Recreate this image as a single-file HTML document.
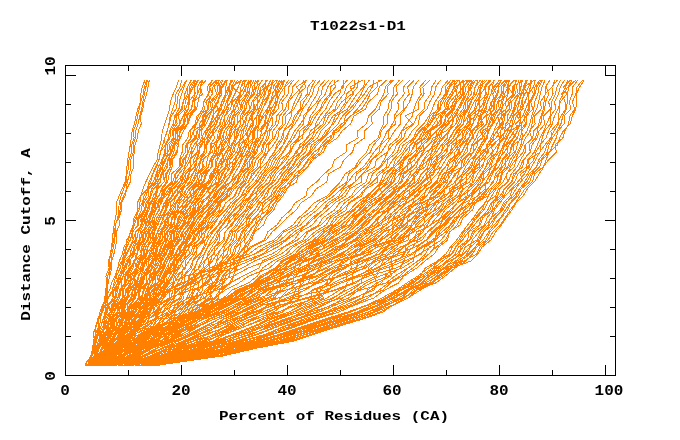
<!DOCTYPE html>
<html><head><meta charset="utf-8"><style>
html,body{margin:0;padding:0;background:#fff;width:680px;height:440px;overflow:hidden}
svg{display:block}
text{font-family:"Liberation Mono",monospace;font-weight:bold;fill:#000}
</style></head><body>
<svg width="680" height="440" viewBox="0 0 680 440">
<rect width="680" height="440" fill="#fff"/>
<g fill="none" stroke="#ff7f00" stroke-width="1" shape-rendering="crispEdges">
<polyline points="145.0,80 142.3,87 140.9,94 140.4,102 137.8,109 136.0,116 134.3,124 132.2,131 131.3,138 130.3,145 129.0,152 127.6,160 126.9,167 126.3,174 125.2,182 121.9,189 119.1,196 116.4,203 117.0,210 115.4,218 114.1,225 113.1,232 112.6,240 111.2,247 110.7,254 108.3,261 109.2,268 105.9,276 107.1,283 105.6,290 104.8,298 103.7,305 102.1,312 97.8,319 95.8,326 95.8,334 93.5,341 92.6,348 91.2,356 85.8,363 84.9,366"/>
<polyline points="146.8,80 144.2,87 143.5,94 140.5,102 139.2,109 137.5,116 136.0,124 133.4,131 134.1,138 131.7,145 131.7,152 129.0,160 128.9,167 126.9,174 126.4,182 123.7,189 121.1,196 119.2,203 118.7,210 117.7,218 115.2,225 114.7,232 113.8,240 112.0,247 110.7,254 109.5,261 110.1,268 107.7,276 107.6,283 105.5,290 105.8,298 102.5,305 99.9,312 98.4,319 96.3,326 93.0,334 94.6,341 93.9,348 91.3,356 86.5,363 86.4,366"/>
<polyline points="147.6,80 145.9,87 144.4,94 142.8,102 141.7,109 139.8,116 138.0,124 135.7,131 135.4,138 133.2,145 133.4,152 130.8,160 130.6,167 129.6,174 127.3,182 126.5,189 123.7,196 120.6,203 120.0,210 118.3,218 115.3,225 115.9,232 114.6,240 113.5,247 111.7,254 111.1,261 110.1,268 109.8,276 108.1,283 106.5,290 106.2,298 102.9,305 101.4,312 98.3,319 99.1,326 97.0,334 95.7,341 94.1,348 91.4,356 88.3,363 87.0,366"/>
<polyline points="149.3,80 148.0,87 146.6,94 144.0,102 142.9,109 140.6,116 141.2,124 138.3,131 137.3,138 134.9,145 134.3,152 133.3,160 133.7,167 131.0,174 130.2,182 126.8,189 125.1,196 121.3,203 121.5,210 118.9,218 119.4,225 116.4,232 116.8,240 115.5,247 113.9,254 111.8,261 111.8,268 109.6,276 108.2,283 107.2,290 107.5,298 103.3,305 102.3,312 99.0,319 98.9,326 95.5,334 95.0,341 94.8,348 91.4,356 89.1,363 89.2,366"/>
<polyline points="178.8,80 176.4,87 173.2,94 170.4,102 169.6,109 167.3,116 164.7,124 162.2,131 161.7,138 160.0,145 158.2,152 157.0,160 152.9,167 149.6,174 145.8,182 142.9,189 140.8,196 137.2,203 138.0,210 133.9,218 133.8,225 130.3,232 128.7,240 123.8,247 122.5,254 119.3,261 117.8,268 114.9,276 111.5,283 109.7,290 105.4,298 105.2,305 102.4,312 100.2,319 99.9,326 98.1,334 95.2,341 92.5,348 91.3,356 86.5,363 87.4,366"/>
<polyline points="181.8,80 180.2,87 175.9,94 175.0,102 172.6,109 170.2,116 168.8,124 167.3,131 164.7,138 162.8,145 160.4,152 159.2,160 155.4,167 152.7,174 149.1,182 147.0,189 141.0,196 139.8,203 139.0,210 135.4,218 133.1,225 131.0,232 126.8,240 125.9,247 125.8,254 121.9,261 117.8,268 115.6,276 114.1,283 112.4,290 108.0,298 105.3,305 105.1,312 103.0,319 101.0,326 98.6,334 95.9,341 94.6,348 90.5,356 90.3,363 88.4,366"/>
<polyline points="186.4,80 182.5,87 178.2,94 177.4,102 176.0,109 171.2,116 169.2,124 167.0,131 164.6,138 165.2,145 160.5,152 158.7,160 156.7,167 152.9,174 150.8,182 147.0,189 144.0,196 142.2,203 137.5,210 136.6,218 134.3,225 132.2,232 130.6,240 125.7,247 123.7,254 122.2,261 120.2,268 116.5,276 117.6,283 114.4,290 108.1,298 106.9,305 107.6,312 103.3,319 100.9,326 98.1,334 96.6,341 94.5,348 92.1,356 89.8,363 88.2,366"/>
<polyline points="186.7,80 184.0,87 181.7,94 179.2,102 179.0,109 174.7,116 173.3,124 169.5,131 168.4,138 165.6,145 164.5,152 162.1,160 158.2,167 156.2,174 153.1,182 148.0,189 146.0,196 142.3,203 141.6,210 137.4,218 137.8,225 132.6,232 129.9,240 127.1,247 124.0,254 122.6,261 122.6,268 119.0,276 115.4,283 112.1,290 113.2,298 107.9,305 106.2,312 104.4,319 105.1,326 100.3,334 98.6,341 95.7,348 94.3,356 88.7,363 88.0,366"/>
<polyline points="191.8,80 187.3,87 187.8,94 183.0,102 182.4,109 175.6,116 177.2,124 172.1,131 173.4,138 167.3,145 167.7,152 161.7,160 160.8,167 156.2,174 155.7,182 148.6,189 148.6,196 143.6,203 144.3,210 138.1,218 138.8,225 132.1,232 133.1,240 129.8,247 126.1,254 122.6,261 124.9,268 118.2,276 118.0,283 113.2,290 113.2,298 107.6,305 105.9,312 103.0,319 103.1,326 98.6,334 100.1,341 95.6,348 95.8,356 88.3,363 91.7,366"/>
<polyline points="191.1,80 187.6,87 184.8,94 183.5,102 181.2,109 177.1,116 175.1,124 170.5,131 169.9,138 165.7,145 165.6,152 162.8,160 162.9,167 158.9,174 156.2,182 151.6,189 150.0,196 147.3,203 145.3,210 141.2,218 142.0,225 135.7,232 133.1,240 130.5,247 127.1,254 123.7,261 124.1,268 120.8,276 117.4,283 115.8,290 114.8,298 109.1,305 107.3,312 104.4,319 104.2,326 101.3,334 100.8,341 97.4,348 95.6,356 91.5,363 90.8,366"/>
<polyline points="194.3,80 189.2,87 189.2,94 185.2,102 184.7,109 178.1,116 180.3,124 173.5,131 174.0,138 169.6,145 170.7,152 164.5,160 162.0,167 157.6,174 158.2,182 151.2,189 150.6,196 145.8,203 144.8,210 139.7,218 142.1,225 135.4,232 135.3,240 129.4,247 131.0,254 124.3,261 126.7,268 120.0,276 120.0,283 115.2,290 116.1,298 108.7,305 110.2,312 104.4,319 108.6,326 99.4,334 102.4,341 95.3,348 95.4,356 90.0,363 92.3,366"/>
<polyline points="194.8,80 191.4,87 189.3,94 188.0,102 185.7,109 183.2,116 179.4,124 176.7,131 175.0,138 171.5,145 168.0,152 165.7,160 162.6,167 162.3,174 157.6,182 157.2,189 153.2,196 151.3,203 147.0,210 143.2,218 140.8,225 138.4,232 136.2,240 132.3,247 130.2,254 129.2,261 123.6,268 123.3,276 119.6,283 117.7,290 115.7,298 111.7,305 110.0,312 104.9,319 105.9,326 101.5,334 100.6,341 97.4,348 91.6,356 90.1,363 90.4,366"/>
<polyline points="195.8,80 193.2,87 189.7,94 189.9,102 188.0,109 183.0,116 179.8,124 175.1,131 175.3,138 174.6,145 170.8,152 168.6,160 165.2,167 160.8,174 160.5,182 153.3,189 150.9,196 148.4,203 147.7,210 144.4,218 142.1,225 138.3,232 136.6,240 134.7,247 131.5,254 128.1,261 124.9,268 123.1,276 119.2,283 116.6,290 114.6,298 113.5,305 111.9,312 109.4,319 104.8,326 103.0,334 102.2,341 97.8,348 94.8,356 93.3,363 90.2,366"/>
<polyline points="197.6,80 194.3,87 194.6,94 188.5,102 188.8,109 184.3,116 183.6,124 176.7,131 177.9,138 173.1,145 171.2,152 167.5,160 167.8,167 161.7,174 160.3,182 156.1,189 155.8,196 151.2,203 147.6,210 146.7,218 143.4,225 140.2,232 139.5,240 133.8,247 132.8,254 126.4,261 129.5,268 123.2,276 121.0,283 121.5,290 117.8,298 113.5,305 110.3,312 108.7,319 109.0,326 103.9,334 102.0,341 95.0,348 96.0,356 88.2,363 90.3,366"/>
<polyline points="198.7,80 194.8,87 195.1,94 192.5,102 191.8,109 184.7,116 184.9,124 177.4,131 177.6,138 174.1,145 172.2,152 168.2,160 166.9,167 163.1,174 164.3,182 156.4,189 156.0,196 149.7,203 149.2,210 144.0,218 146.3,225 142.2,232 140.4,240 134.0,247 135.1,254 129.1,261 130.3,268 125.0,276 124.7,283 119.7,290 117.9,298 112.7,305 109.9,312 107.1,319 104.7,326 101.3,334 100.3,341 96.8,348 96.2,356 88.5,363 90.5,366"/>
<polyline points="203.0,80 200.3,87 197.5,94 194.4,102 194.8,109 187.1,116 187.7,124 180.7,131 177.5,138 178.6,145 176.6,152 169.3,160 170.1,167 165.8,174 164.0,182 157.8,189 156.2,196 152.9,203 151.3,210 148.0,218 146.0,225 144.0,232 140.2,240 136.8,247 133.5,254 130.1,261 131.8,268 125.5,276 125.8,283 120.8,290 118.2,298 114.4,305 112.7,312 108.5,319 108.8,326 104.6,334 101.8,341 96.9,348 96.5,356 91.3,363 93.0,366"/>
<polyline points="201.5,80 197.5,87 197.8,94 192.7,102 191.1,109 186.4,116 184.6,124 180.0,131 179.5,138 175.0,145 173.9,152 170.3,160 170.3,167 165.6,174 166.5,182 161.2,189 159.0,196 153.5,203 152.6,210 150.6,218 145.6,225 144.2,232 143.3,240 138.3,247 137.1,254 134.0,261 130.6,268 128.2,276 125.1,283 121.3,290 119.5,298 115.8,305 114.1,312 110.5,319 106.8,326 106.9,334 104.0,341 99.3,348 95.9,356 91.8,363 92.5,366"/>
<polyline points="202.2,80 200.3,87 202.4,94 193.9,102 196.0,109 189.6,116 187.6,124 183.3,131 180.2,138 176.9,145 177.7,152 171.5,160 170.8,167 166.7,174 166.0,182 162.4,189 158.3,196 155.0,203 152.2,210 149.2,218 149.0,225 141.1,232 143.0,240 137.2,247 137.3,254 134.8,261 131.6,268 127.0,276 129.0,283 122.5,290 123.3,298 116.6,305 114.2,312 110.1,319 110.9,326 105.7,334 103.6,341 98.3,348 96.9,356 91.0,363 94.9,366"/>
<polyline points="206.2,80 200.3,87 200.1,94 198.0,102 196.5,109 190.8,116 187.8,124 183.5,131 180.3,138 176.9,145 177.5,152 172.6,160 172.0,167 169.2,174 167.6,182 162.5,189 161.7,196 156.2,203 153.6,210 150.6,218 148.0,225 144.1,232 143.6,240 139.6,247 136.4,254 134.5,261 133.0,268 129.1,276 126.1,283 123.4,290 122.0,298 117.7,305 114.3,312 112.0,319 108.3,326 105.4,334 105.1,341 98.3,348 96.3,356 93.5,363 92.0,366"/>
<polyline points="216.4,80 209.2,87 212.8,94 205.8,102 208.6,109 196.9,116 195.3,124 189.3,131 187.9,138 182.7,145 182.2,152 179.4,160 179.3,167 171.3,174 171.6,182 163.9,189 162.2,196 156.0,203 155.2,210 149.4,218 150.7,225 145.7,232 144.7,240 138.6,247 141.5,254 133.7,261 136.4,268 129.7,276 130.7,283 126.4,290 124.6,298 119.0,305 117.0,312 110.9,319 112.6,326 107.4,334 107.1,341 101.4,348 99.3,356 92.4,363 95.4,366"/>
<polyline points="220.0,80 214.2,87 216.7,94 210.0,102 211.5,109 203.3,116 203.1,124 193.1,131 194.7,138 187.1,145 188.3,152 182.7,160 181.1,167 175.8,174 175.7,182 164.3,189 163.5,196 160.6,203 158.8,210 154.5,218 154.5,225 148.7,232 147.6,240 141.5,247 144.6,254 134.3,261 136.9,268 131.8,276 128.4,283 122.1,290 125.2,298 117.1,305 117.6,312 112.6,319 110.8,326 104.3,334 101.9,341 98.9,348 97.0,356 92.2,363 93.8,366"/>
<polyline points="216.2,80 210.1,87 208.3,94 204.1,102 202.5,109 198.2,116 196.5,124 190.2,131 190.7,138 186.0,145 185.5,152 180.1,160 181.1,167 174.9,174 176.2,182 170.6,189 168.5,196 164.2,203 161.8,210 156.7,218 155.3,225 151.8,232 147.8,240 144.0,247 144.1,254 140.7,261 137.0,268 130.2,276 132.6,283 125.3,290 126.2,298 120.1,305 119.6,312 114.3,319 111.4,326 106.8,334 104.1,341 101.9,348 98.5,356 94.1,363 93.0,366"/>
<polyline points="212.3,80 207.2,87 208.7,94 203.2,102 204.5,109 200.3,116 196.6,124 193.4,131 190.9,138 186.5,145 187.8,152 184.1,160 182.2,167 175.6,174 172.5,182 165.5,189 163.8,196 157.8,203 159.6,210 154.2,218 153.5,225 149.4,232 151.0,240 145.7,247 143.8,254 139.5,261 138.6,268 133.4,276 134.8,283 127.8,290 127.3,298 120.6,305 119.6,312 111.8,319 112.5,326 108.8,334 108.2,341 101.7,348 99.4,356 93.1,363 93.2,366"/>
<polyline points="225.7,80 221.4,87 220.0,94 218.4,102 214.2,109 205.7,116 204.0,124 199.8,131 200.0,138 193.8,145 190.6,152 187.9,160 184.6,167 178.9,174 174.5,182 170.2,189 166.2,196 158.4,203 155.9,210 152.7,218 150.3,225 147.5,232 144.9,240 141.7,247 141.0,254 139.0,261 136.6,268 134.6,276 129.8,283 126.9,290 124.5,298 120.5,305 117.7,312 116.7,319 112.4,326 107.5,334 106.4,341 103.4,348 98.6,356 95.2,363 93.4,366"/>
<polyline points="221.9,80 217.0,87 218.4,94 211.9,102 213.3,109 207.2,116 204.4,124 196.8,131 195.4,138 190.8,145 188.1,152 185.5,160 184.8,167 183.0,174 176.7,182 168.4,189 164.4,196 161.5,203 155.4,210 152.9,218 152.0,225 148.4,232 148.4,240 143.1,247 143.9,254 137.3,261 136.4,268 135.2,276 132.1,283 128.2,290 128.2,298 121.2,305 122.8,312 116.0,319 116.8,326 111.4,334 107.4,341 102.6,348 100.3,356 95.2,363 97.2,366"/>
<polyline points="217.8,80 212.9,87 212.0,94 208.4,102 208.4,109 202.1,116 202.5,124 197.3,131 196.7,138 190.5,145 192.1,152 190.5,160 186.2,167 182.4,174 179.7,182 172.1,189 169.0,196 165.8,203 162.6,210 158.8,218 155.9,225 154.0,232 150.6,240 147.4,247 145.7,254 141.2,261 136.9,268 138.5,276 136.2,283 130.5,290 126.1,298 122.8,305 121.5,312 115.2,319 114.7,326 111.2,334 108.2,341 102.3,348 99.1,356 93.9,363 96.1,366"/>
<polyline points="211.9,80 210.0,87 208.9,94 209.3,102 207.3,109 204.7,116 199.4,124 200.1,131 197.9,138 196.4,145 192.8,152 190.1,160 190.1,167 183.2,174 181.5,182 177.1,189 171.6,196 165.9,203 165.0,210 162.9,218 160.5,225 157.5,232 153.7,240 151.3,247 146.8,254 144.8,261 141.4,268 139.1,276 137.0,283 133.8,290 127.9,298 124.9,305 121.3,312 116.9,319 112.9,326 107.8,334 106.2,341 102.4,348 98.4,356 95.1,363 93.0,366"/>
<polyline points="222.7,80 220.2,87 222.0,94 217.0,102 213.1,109 209.7,116 206.1,124 201.0,131 202.4,138 202.2,145 197.6,152 193.6,160 194.3,167 188.5,174 185.4,182 177.4,189 172.9,196 168.2,203 165.7,210 160.7,218 157.8,225 152.1,232 152.7,240 147.8,247 146.7,254 142.4,261 140.3,268 134.5,276 135.5,283 129.9,290 127.7,298 124.0,305 122.7,312 114.4,319 114.1,326 109.7,334 107.0,341 104.3,348 103.5,356 96.3,363 96.0,366"/>
<polyline points="230.9,80 229.0,87 227.7,94 221.7,102 221.3,109 216.5,116 214.5,124 207.7,131 204.4,138 204.4,145 204.4,152 197.0,160 194.6,167 185.7,174 184.5,182 173.0,189 171.8,196 166.7,203 165.3,210 160.4,218 157.4,225 154.6,232 152.7,240 147.2,247 147.0,254 142.6,261 143.1,268 134.7,276 135.5,283 132.4,290 131.3,298 125.7,305 123.4,312 116.7,319 117.1,326 111.4,334 109.8,341 105.0,348 101.0,356 95.9,363 97.5,366"/>
<polyline points="227.0,80 222.7,87 218.3,94 214.6,102 218.3,109 212.3,116 211.3,124 205.9,131 204.8,138 197.1,145 197.2,152 189.9,160 191.1,167 185.3,174 182.0,182 177.9,189 177.1,196 170.2,203 170.2,210 163.0,218 166.0,225 157.7,232 160.1,240 151.6,247 151.1,254 144.3,261 142.8,268 141.5,276 139.8,283 134.7,290 133.2,298 127.0,305 127.4,312 118.7,319 119.8,326 109.5,334 110.9,341 102.5,348 100.9,356 93.9,363 95.5,366"/>
<polyline points="218.5,80 219.3,87 220.0,94 217.6,102 213.8,109 213.8,116 209.8,124 205.3,131 201.5,138 198.9,145 199.9,152 196.9,160 195.9,167 192.5,174 185.9,182 183.0,189 175.6,196 169.1,203 166.2,210 163.2,218 160.7,225 157.3,232 154.7,240 152.1,247 149.3,254 146.2,261 143.6,268 144.8,276 137.0,283 135.9,290 134.7,298 129.6,305 124.7,312 120.9,319 119.9,326 116.6,334 109.3,341 106.5,348 101.9,356 98.1,363 97.9,366"/>
<polyline points="227.3,80 225.9,87 225.7,94 221.6,102 219.3,109 216.9,116 211.1,124 210.1,131 206.8,138 200.7,145 198.7,152 196.2,160 190.5,167 189.5,174 186.7,182 180.7,189 175.9,196 173.6,203 169.4,210 166.8,218 164.2,225 160.3,232 156.6,240 153.7,247 150.7,254 146.6,261 147.2,268 141.5,276 139.2,283 132.7,290 130.7,298 125.6,305 124.1,312 122.5,319 118.6,326 114.4,334 111.7,341 107.6,348 102.7,356 97.9,363 97.3,366"/>
<polyline points="241.4,80 238.2,87 234.9,94 230.5,102 226.3,109 222.4,116 219.5,124 215.8,131 209.7,138 206.1,145 204.4,152 201.1,160 197.3,167 195.5,174 191.7,182 181.6,189 180.0,196 175.2,203 171.0,210 166.7,218 160.7,225 157.3,232 155.8,240 153.3,247 152.9,254 145.1,261 143.0,268 138.7,276 137.5,283 133.1,290 131.8,298 125.8,305 122.1,312 119.5,319 116.6,326 111.8,334 109.8,341 106.2,348 99.7,356 95.3,363 96.1,366"/>
<polyline points="231.5,80 229.5,87 229.6,94 226.4,102 224.0,109 219.6,116 216.7,124 211.9,131 208.0,138 205.6,145 203.8,152 200.3,160 197.5,167 192.6,174 189.5,182 183.2,189 180.9,196 175.6,203 175.0,210 168.8,218 166.6,225 161.9,232 159.6,240 158.0,247 153.8,254 151.6,261 147.9,268 144.2,276 140.8,283 137.8,290 135.5,298 130.2,305 127.0,312 121.8,319 119.6,326 113.4,334 111.8,341 105.8,348 101.6,356 95.9,363 96.2,366"/>
<polyline points="233.2,80 228.2,87 225.8,94 223.9,102 220.4,109 217.9,116 216.1,124 213.6,131 211.2,138 207.0,145 206.5,152 200.7,160 199.6,167 197.7,174 193.2,182 186.8,189 181.7,196 176.6,203 172.9,210 168.5,218 165.2,225 161.3,232 158.7,240 156.3,247 154.7,254 153.7,261 149.6,268 143.3,276 140.0,283 136.0,290 133.6,298 131.2,305 128.0,312 123.0,319 121.0,326 115.0,334 110.0,341 105.1,348 101.2,356 99.0,363 94.4,366"/>
<polyline points="240.6,80 238.2,87 234.6,94 231.4,102 230.9,109 224.7,116 222.6,124 218.3,131 217.5,138 213.9,145 209.4,152 207.2,160 206.2,167 198.0,174 196.7,182 189.1,189 185.1,196 183.3,203 178.2,210 172.4,218 170.1,225 163.0,232 162.5,240 157.7,247 155.8,254 148.8,261 148.1,268 144.1,276 142.4,283 137.7,290 135.5,298 130.4,305 129.2,312 121.9,319 119.8,326 115.2,334 111.5,341 105.8,348 103.7,356 97.4,363 95.1,366"/>
<polyline points="234.9,80 231.3,87 230.7,94 227.7,102 226.6,109 219.5,116 220.9,124 212.3,131 214.7,138 210.0,145 210.8,152 203.2,160 202.5,167 200.2,174 198.0,182 192.2,189 187.5,196 179.7,203 177.1,210 171.4,218 171.4,225 166.9,232 161.7,240 154.6,247 152.7,254 147.9,261 149.3,268 144.9,276 143.2,283 139.1,290 138.3,298 133.6,305 130.8,312 124.2,319 119.3,326 115.2,334 114.4,341 107.3,348 105.0,356 97.0,363 100.4,366"/>
<polyline points="241.3,80 232.2,87 240.0,94 232.5,102 233.9,109 228.5,116 225.3,124 222.0,131 219.7,138 215.2,145 214.5,152 210.1,160 208.3,167 201.5,174 202.1,182 192.6,189 187.3,196 187.0,203 181.3,210 174.7,218 174.9,225 166.6,232 164.9,240 161.7,247 159.3,254 153.7,261 152.4,268 144.9,276 143.3,283 138.6,290 140.4,298 132.0,305 131.5,312 122.4,319 122.8,326 114.6,334 114.4,341 106.2,348 104.4,356 96.8,363 97.2,366"/>
<polyline points="237.7,80 232.9,87 231.4,94 227.6,102 228.2,109 224.9,116 224.5,124 219.8,131 220.9,138 210.9,145 212.4,152 201.5,160 204.2,167 195.7,174 193.3,182 186.5,189 183.6,196 178.2,203 177.0,210 167.8,218 168.3,225 164.6,232 164.8,240 160.8,247 158.5,254 151.6,261 151.9,268 149.3,276 149.3,283 140.0,290 139.3,298 134.5,305 130.4,312 125.7,319 126.1,326 118.9,334 114.1,341 109.3,348 104.2,356 96.7,363 95.5,366"/>
<polyline points="243.6,80 240.9,87 241.0,94 238.7,102 235.2,109 233.7,116 230.0,124 224.1,131 223.8,138 221.3,145 220.8,152 211.7,160 211.8,167 205.7,174 202.8,182 189.3,189 191.5,196 182.8,203 182.2,210 172.9,218 169.8,225 164.1,232 166.3,240 157.4,247 156.9,254 152.2,261 149.4,268 146.2,276 146.4,283 139.7,290 138.2,298 133.4,305 133.2,312 124.0,319 124.1,326 115.1,334 113.3,341 108.7,348 106.2,356 98.4,363 99.0,366"/>
<polyline points="248.9,80 245.9,87 243.0,94 236.3,102 238.9,109 232.1,116 231.8,124 226.8,131 225.6,138 219.6,145 218.1,152 212.9,160 212.1,167 204.0,174 204.2,182 197.6,189 190.0,196 183.9,203 178.5,210 176.1,218 172.8,225 167.8,232 167.3,240 163.7,247 160.7,254 158.4,261 154.6,268 151.1,276 145.9,283 140.3,290 139.3,298 133.6,305 130.7,312 126.7,319 120.6,326 116.9,334 112.2,341 109.8,348 104.0,356 97.8,363 96.9,366"/>
<polyline points="244.7,80 244.2,87 239.8,94 238.4,102 235.0,109 230.1,116 229.2,124 224.4,131 221.9,138 219.8,145 214.9,152 210.9,160 208.1,167 203.8,174 199.1,182 197.8,189 192.1,196 189.3,203 182.0,210 178.6,218 176.4,225 170.7,232 166.2,240 164.3,247 160.4,254 155.2,261 156.1,268 149.7,276 147.0,283 144.6,290 140.9,298 136.8,305 132.8,312 129.2,319 126.3,326 121.2,334 117.8,341 111.2,348 105.1,356 98.7,363 98.7,366"/>
<polyline points="251.5,80 245.0,87 246.5,94 239.4,102 241.1,109 233.9,116 234.4,124 230.0,131 227.4,138 222.7,145 220.7,152 215.6,160 216.0,167 212.4,174 207.2,182 198.4,189 193.5,196 189.7,203 184.1,210 177.8,218 177.2,225 169.6,232 171.2,240 164.6,247 162.2,254 156.3,261 153.0,268 146.1,276 147.3,283 143.2,290 142.0,298 135.3,305 132.9,312 127.1,319 123.7,326 118.1,334 117.7,341 110.1,348 105.3,356 97.6,363 100.6,366"/>
<polyline points="246.3,80 240.9,87 239.7,94 235.8,102 233.4,109 230.7,116 227.2,124 220.8,131 218.5,138 216.4,145 216.8,152 212.5,160 211.2,167 206.7,174 204.0,182 193.2,189 195.3,196 186.7,203 185.8,210 179.6,218 177.2,225 174.9,232 173.8,240 165.8,247 163.7,254 160.0,261 156.9,268 151.3,276 152.9,283 147.8,290 146.8,298 138.3,305 135.0,312 130.1,319 129.1,326 121.7,334 119.3,341 111.4,348 107.4,356 101.9,363 102.4,366"/>
<polyline points="250.5,80 248.1,87 246.8,94 243.9,102 240.6,109 235.3,116 233.2,124 229.7,131 229.2,138 224.4,145 221.6,152 224.1,160 218.2,167 215.6,174 210.5,182 204.3,189 198.7,196 195.0,203 187.9,210 183.5,218 179.3,225 173.0,232 168.9,240 166.9,247 161.1,254 160.2,261 156.4,268 153.2,276 149.9,283 146.9,290 143.5,298 138.2,305 134.4,312 129.2,319 127.6,326 121.6,334 114.4,341 110.0,348 104.6,356 100.5,363 99.0,366"/>
<polyline points="251.4,80 250.2,87 248.2,94 241.9,102 242.1,109 237.5,116 237.5,124 234.1,131 230.2,138 229.0,145 226.7,152 220.7,160 217.4,167 213.3,174 209.0,182 202.8,189 199.2,196 191.3,203 190.4,210 184.7,218 182.5,225 173.9,232 174.0,240 170.3,247 164.6,254 161.1,261 159.4,268 153.4,276 149.3,283 146.4,290 144.5,298 137.3,305 134.5,312 128.4,319 124.1,326 118.8,334 117.0,341 110.8,348 108.5,356 99.0,363 95.9,366"/>
<polyline points="255.2,80 254.6,87 253.0,94 248.2,102 250.1,109 243.8,116 236.9,124 231.5,131 229.2,138 227.6,145 221.9,152 217.1,160 216.2,167 210.5,174 208.0,182 200.3,189 196.2,196 192.7,203 187.3,210 181.5,218 177.6,225 171.8,232 171.8,240 167.8,247 165.1,254 159.7,261 160.9,268 153.6,276 152.8,283 148.0,290 145.0,298 140.6,305 135.8,312 131.5,319 131.2,326 122.5,334 119.8,341 112.5,348 110.0,356 101.9,363 102.2,366"/>
<polyline points="263.1,80 256.0,87 254.5,94 247.2,102 246.1,109 242.7,116 243.3,124 234.3,131 234.6,138 232.2,145 230.3,152 226.8,160 225.1,167 218.7,174 212.5,182 208.9,189 203.7,196 195.8,203 195.5,210 187.2,218 183.1,225 178.6,232 174.6,240 168.8,247 166.4,254 162.1,261 160.3,268 154.0,276 155.6,283 146.2,290 143.7,298 140.8,305 138.3,312 130.1,319 127.1,326 121.5,334 118.0,341 110.9,348 106.1,356 100.6,363 100.8,366"/>
<polyline points="254.2,80 250.1,87 249.4,94 245.4,102 244.6,109 240.3,116 240.3,124 238.0,131 235.5,138 231.0,145 225.5,152 221.2,160 222.1,167 214.0,174 210.2,182 205.0,189 200.8,196 194.6,203 192.6,210 186.8,218 184.4,225 179.8,232 176.2,240 171.3,247 168.7,254 164.3,261 161.0,268 155.6,276 155.2,283 149.6,290 147.3,298 144.1,305 139.6,312 133.6,319 130.0,326 123.9,334 119.3,341 112.8,348 107.2,356 101.6,363 99.8,366"/>
<polyline points="258.6,80 256.8,87 257.4,94 252.1,102 250.2,109 246.5,116 243.7,124 240.1,131 236.8,138 234.2,145 232.0,152 227.9,160 226.2,167 219.3,174 218.0,182 205.9,189 200.9,196 195.6,203 194.5,210 185.4,218 182.9,225 176.4,232 175.9,240 171.8,247 169.3,254 165.2,261 162.1,268 154.7,276 155.3,283 148.8,290 147.6,298 143.0,305 138.8,312 134.4,319 130.8,326 122.6,334 120.8,341 111.3,348 110.1,356 102.7,363 100.9,366"/>
<polyline points="258.4,80 252.4,87 251.8,94 247.1,102 245.9,109 240.3,116 240.7,124 236.9,131 235.6,138 232.4,145 228.1,152 224.8,160 220.9,167 217.2,174 215.7,182 209.5,189 203.4,196 199.1,203 197.2,210 188.8,218 188.5,225 182.0,232 178.8,240 174.3,247 171.2,254 166.9,261 164.6,268 160.5,276 157.7,283 152.2,290 149.0,298 144.1,305 138.3,312 133.8,319 130.1,326 124.5,334 120.0,341 113.7,348 108.1,356 102.9,363 101.3,366"/>
<polyline points="262.3,80 258.3,87 260.0,94 253.4,102 255.4,109 250.9,116 252.8,124 248.0,131 247.0,138 241.2,145 240.0,152 233.1,160 232.5,167 230.5,174 226.3,182 218.9,189 213.7,196 208.0,203 204.2,210 193.6,218 192.8,225 185.3,232 180.2,240 172.6,247 172.5,254 167.3,261 164.2,268 159.4,276 158.0,283 148.6,290 146.8,298 140.9,305 138.7,312 133.2,319 129.8,326 121.0,334 118.1,341 112.6,348 107.3,356 100.2,363 100.8,366"/>
<polyline points="270.5,80 267.7,87 264.6,94 257.6,102 257.5,109 251.9,116 247.6,124 241.7,131 240.1,138 239.4,145 236.5,152 229.9,160 229.0,167 226.1,174 223.2,182 213.5,189 208.1,196 201.4,203 197.7,210 190.5,218 184.7,225 179.6,232 177.3,240 174.5,247 169.6,254 165.2,261 163.4,268 157.7,276 158.3,283 149.2,290 149.3,298 145.2,305 139.5,312 136.0,319 133.2,326 124.4,334 121.3,341 113.2,348 110.6,356 102.8,363 101.9,366"/>
<polyline points="267.9,80 261.0,87 260.8,94 253.2,102 253.1,109 247.1,116 245.5,124 243.4,131 242.6,138 235.4,145 233.9,152 228.0,160 227.8,167 221.7,174 218.7,182 207.8,189 210.2,196 198.4,203 193.0,210 189.7,218 186.9,225 182.1,232 181.0,240 174.9,247 173.0,254 169.4,261 168.2,268 162.9,276 160.0,283 154.8,290 153.3,298 147.3,305 145.0,312 134.7,319 133.5,326 124.7,334 121.4,341 113.5,348 110.3,356 100.7,363 103.6,366"/>
<polyline points="266.7,80 262.7,87 265.4,94 262.0,102 258.8,109 256.9,116 251.1,124 247.7,131 242.8,138 245.1,145 238.2,152 235.5,160 233.7,167 229.3,174 219.6,182 216.2,189 209.2,196 203.2,203 198.7,210 192.1,218 188.1,225 182.5,232 183.7,240 178.7,247 174.9,254 170.0,261 166.4,268 162.9,276 160.0,283 155.9,290 149.5,298 146.3,305 141.6,312 136.0,319 131.5,326 126.9,334 123.3,341 114.8,348 112.3,356 105.1,363 101.3,366"/>
<polyline points="271.0,80 266.6,87 261.8,94 259.0,102 253.5,109 252.1,116 253.7,124 250.7,131 248.1,138 244.9,145 241.8,152 237.4,160 231.0,167 225.3,174 221.6,182 216.5,189 213.2,196 207.4,203 201.9,210 194.7,218 190.4,225 185.8,232 184.1,240 179.1,247 175.7,254 169.4,261 168.3,268 163.1,276 158.1,283 153.6,290 153.3,298 146.8,305 145.7,312 139.6,319 134.9,326 130.4,334 123.8,341 116.3,348 111.4,356 103.2,363 103.7,366"/>
<polyline points="265.0,80 265.6,87 257.7,94 257.9,102 254.6,109 250.2,116 247.8,124 245.7,131 247.4,138 238.6,145 239.9,152 234.3,160 225.9,167 222.9,174 218.7,182 214.0,189 209.8,196 208.2,203 199.7,210 195.7,218 191.1,225 187.5,232 183.3,240 180.4,247 175.4,254 173.3,261 169.4,268 166.4,276 161.3,283 157.1,290 154.6,298 149.7,305 143.9,312 140.2,319 136.1,326 133.4,334 123.9,341 119.6,348 113.6,356 104.9,363 104.6,366"/>
<polyline points="272.6,80 271.0,87 268.2,94 265.6,102 262.6,109 258.8,116 259.1,124 253.5,131 253.2,138 251.4,145 246.6,152 241.9,160 238.9,167 234.1,174 230.6,182 219.2,189 216.8,196 208.5,203 204.1,210 197.7,218 193.7,225 189.9,232 186.8,240 179.3,247 176.3,254 170.0,261 170.1,268 162.7,276 160.9,283 157.9,290 151.4,298 146.9,305 142.2,312 135.8,319 131.5,326 126.9,334 121.1,341 115.9,348 111.0,356 100.8,363 101.4,366"/>
<polyline points="273.3,80 271.5,87 270.1,94 266.4,102 262.5,109 260.1,116 258.7,124 252.2,131 248.6,138 247.7,145 244.1,152 237.2,160 234.1,167 231.2,174 225.0,182 221.1,189 214.4,196 210.9,203 203.1,210 198.6,218 192.1,225 189.5,232 185.7,240 179.5,247 179.1,254 174.0,261 170.7,268 164.5,276 164.6,283 161.0,290 156.5,298 151.8,305 145.2,312 138.8,319 133.1,326 128.2,334 122.4,341 116.7,348 112.2,356 104.7,363 103.6,366"/>
<polyline points="281.6,80 277.7,87 275.9,94 271.3,102 266.9,109 262.2,116 259.5,124 254.8,131 254.6,138 248.3,145 249.4,152 241.2,160 238.5,167 234.4,174 230.8,182 222.2,189 218.7,196 212.9,203 208.0,210 198.2,218 194.3,225 190.3,232 188.1,240 181.2,247 179.1,254 173.7,261 171.1,268 166.3,276 162.5,283 157.5,290 154.2,298 147.9,305 147.4,312 141.7,319 139.2,326 127.9,334 123.4,341 114.7,348 112.3,356 103.8,363 102.2,366"/>
<polyline points="276.5,80 267.1,87 269.2,94 263.1,102 260.7,109 256.6,116 256.7,124 252.5,131 252.8,138 246.3,145 244.0,152 240.5,160 235.8,167 231.2,174 226.0,182 225.4,189 220.2,196 213.1,203 207.0,210 201.0,218 196.5,225 192.0,232 187.5,240 183.9,247 180.2,254 174.9,261 174.3,268 169.6,276 165.8,283 159.7,290 154.8,298 152.2,305 146.2,312 142.8,319 136.5,326 130.8,334 128.0,341 120.3,348 114.2,356 104.9,363 106.1,366"/>
<polyline points="279.7,80 276.4,87 272.1,94 271.8,102 267.4,109 265.6,116 264.5,124 258.0,131 257.3,138 253.7,145 251.2,152 246.4,160 243.5,167 241.8,174 236.4,182 229.7,189 221.6,196 215.6,203 210.9,210 204.5,218 198.6,225 193.3,232 189.4,240 185.2,247 178.0,254 173.8,261 173.1,268 163.7,276 163.0,283 156.3,290 155.4,298 148.2,305 146.2,312 140.4,319 135.9,326 128.3,334 127.3,341 117.5,348 111.8,356 105.3,363 104.7,366"/>
<polyline points="284.1,80 275.1,87 275.8,94 269.4,102 270.2,109 264.1,116 258.7,124 257.8,131 257.5,138 251.3,145 248.8,152 245.3,160 241.9,167 238.5,174 230.4,182 225.9,189 221.3,196 213.5,203 209.2,210 204.9,218 200.2,225 194.7,232 187.7,240 185.2,247 181.9,254 177.9,261 174.5,268 172.8,276 167.3,283 161.3,290 158.2,298 153.3,305 148.6,312 142.7,319 138.1,326 130.7,334 123.9,341 118.3,348 112.4,356 104.7,363 104.7,366"/>
<polyline points="277.9,80 273.1,87 276.2,94 269.8,102 269.8,109 266.4,116 265.2,124 260.4,131 264.1,138 258.1,145 257.3,152 249.7,160 249.0,167 241.1,174 238.0,182 228.1,189 226.0,196 219.4,203 211.5,210 206.0,218 205.0,225 197.7,232 194.8,240 185.9,247 182.5,254 176.2,261 175.8,268 165.5,276 167.7,283 160.7,290 161.3,298 151.8,305 150.1,312 141.2,319 141.5,326 130.9,334 126.3,341 119.5,348 115.2,356 103.4,363 107.4,366"/>
<polyline points="288.4,80 284.6,87 279.8,94 276.6,102 274.0,109 269.8,116 266.0,124 261.4,131 260.5,138 256.4,145 252.7,152 246.6,160 248.1,167 238.5,174 233.4,182 231.0,189 224.1,196 217.7,203 215.9,210 206.2,218 201.6,225 194.9,232 192.6,240 186.6,247 183.6,254 177.6,261 178.4,268 171.8,276 167.6,283 164.0,290 160.4,298 153.7,305 150.7,312 144.2,319 139.8,326 130.6,334 126.0,341 119.9,348 113.4,356 105.6,363 102.3,366"/>
<polyline points="284.2,80 280.0,87 276.6,94 275.3,102 271.2,109 269.5,116 267.6,124 265.7,131 259.0,138 255.1,145 254.1,152 249.7,160 243.6,167 238.5,174 237.6,182 228.5,189 227.4,196 219.8,203 214.2,210 206.4,218 200.9,225 197.6,232 192.7,240 188.8,247 185.7,254 183.8,261 177.4,268 173.0,276 168.9,283 165.1,290 161.5,298 155.1,305 149.0,312 146.2,319 138.8,326 134.4,334 128.0,341 122.6,348 116.3,356 107.5,363 104.4,366"/>
<polyline points="284.7,80 282.1,87 277.3,94 277.5,102 274.5,109 272.1,116 268.7,124 266.2,131 263.0,138 260.2,145 255.2,152 252.6,160 250.0,167 244.4,174 239.3,182 232.0,189 228.7,196 220.5,203 216.2,210 209.2,218 202.5,225 199.4,232 194.1,240 189.4,247 184.7,254 179.0,261 175.8,268 172.5,276 167.8,283 163.1,290 157.8,298 151.1,305 148.7,312 142.9,319 139.1,326 132.8,334 124.8,341 120.8,348 111.6,356 105.2,363 103.6,366"/>
<polyline points="291.8,80 284.9,87 284.6,94 279.3,102 278.1,109 271.9,116 273.0,124 268.1,131 266.5,138 262.7,145 261.0,152 252.6,160 252.1,167 245.0,174 242.9,182 234.2,189 229.5,196 220.7,203 219.6,210 209.9,218 206.9,225 199.3,232 198.7,240 188.6,247 189.4,254 180.6,261 183.3,268 181.7,276 177.6,283 174.7,290 174.7,298 170.9,305 168.3,312 160.4,319 158.4,326 149.7,334 144.9,341 132.4,348 125.0,356 113.7,363 112.0,366"/>
<polyline points="293.5,80 288.7,87 288.2,94 281.8,102 282.8,109 276.5,116 275.8,124 269.6,131 268.8,138 263.9,145 262.6,152 255.8,160 253.6,167 247.8,174 244.1,182 237.3,189 234.3,196 225.6,203 222.5,210 215.8,218 210.1,225 203.9,232 198.7,240 192.7,247 190.3,254 183.2,261 179.4,268 174.6,276 172.7,283 166.4,290 164.3,298 156.1,305 152.9,312 147.0,319 141.2,326 133.9,334 127.6,341 120.6,348 115.1,356 105.1,363 106.8,366"/>
<polyline points="298.8,80 292.7,87 291.9,94 287.4,102 285.3,109 279.7,116 278.2,124 272.9,131 272.9,138 266.7,145 265.1,152 260.8,160 260.5,167 251.6,174 248.8,182 237.6,189 235.2,196 225.5,203 221.6,210 212.7,218 208.4,225 201.2,232 202.2,240 194.5,247 192.3,254 185.3,261 185.6,268 176.0,276 174.7,283 169.8,290 169.9,298 159.8,305 158.4,312 148.1,319 147.7,326 135.9,334 132.0,341 122.8,348 120.9,356 106.4,363 106.1,366"/>
<polyline points="306.7,80 301.7,87 294.9,94 288.1,102 288.7,109 282.9,116 282.6,124 277.0,131 274.5,138 268.7,145 267.9,152 258.8,160 257.2,167 249.0,174 245.7,182 240.7,189 238.0,196 230.7,203 225.2,210 217.8,218 212.4,225 205.2,232 203.5,240 196.1,247 196.8,254 192.4,261 191.9,268 184.4,276 184.6,283 178.6,290 181.7,298 174.8,305 172.8,312 163.6,319 157.7,326 145.6,334 140.0,341 127.1,348 122.3,356 110.2,363 109.8,366"/>
<polyline points="307.0,80 296.3,87 301.7,94 297.7,102 294.0,109 286.0,116 285.1,124 278.8,131 277.9,138 273.4,145 267.8,152 263.7,160 259.3,167 253.5,174 247.8,182 241.3,189 238.2,196 230.7,203 226.3,210 218.2,218 213.9,225 208.3,232 205.8,240 197.9,247 194.3,254 189.0,261 184.8,268 178.3,276 173.7,283 169.9,290 163.8,298 159.5,305 156.8,312 148.3,319 145.1,326 133.2,334 131.9,341 122.6,348 114.1,356 108.2,363 107.1,366"/>
<polyline points="303.3,80 305.8,87 298.6,94 294.6,102 291.9,109 291.3,116 287.5,124 283.7,131 281.5,138 276.7,145 274.4,152 268.8,160 261.9,167 257.0,174 251.2,182 244.8,189 241.2,196 233.3,203 228.1,210 222.2,218 218.0,225 211.5,232 205.3,240 203.7,247 199.7,254 192.7,261 189.9,268 183.1,276 181.0,283 172.8,290 171.0,298 165.0,305 158.2,312 154.6,319 146.5,326 143.2,334 135.7,341 124.8,348 118.0,356 109.0,363 107.1,366"/>
<polyline points="320.1,80 314.4,87 312.4,94 307.9,102 302.7,109 299.8,116 294.9,124 289.1,131 287.4,138 283.0,145 279.7,152 272.8,160 270.2,167 262.3,174 256.7,182 250.4,189 242.3,196 235.1,203 230.9,210 224.7,218 218.8,225 213.0,232 207.9,240 204.9,247 201.0,254 197.0,261 195.1,268 193.4,276 198.4,283 198.5,290 196.4,298 189.5,305 185.0,312 178.7,319 171.8,326 161.5,334 149.7,341 139.9,348 129.9,356 116.1,363 113.0,366"/>
<polyline points="313.5,80 307.8,87 307.6,94 300.1,102 300.2,109 294.2,116 291.8,124 283.9,131 283.2,138 278.9,145 273.9,152 268.4,160 265.5,167 259.8,174 255.1,182 247.5,189 245.0,196 237.8,203 233.7,210 226.8,218 222.0,225 216.5,232 211.3,240 207.8,247 204.1,254 197.3,261 194.0,268 189.0,276 187.5,283 181.3,290 183.6,298 178.2,305 174.4,312 164.5,319 160.8,326 151.1,334 145.8,341 134.7,348 123.6,356 113.8,363 110.4,366"/>
<polyline points="315.4,80 311.7,87 309.4,94 303.6,102 301.4,109 296.3,116 292.9,124 289.3,131 285.4,138 282.9,145 277.1,152 270.3,160 267.6,167 262.6,174 258.1,182 250.8,189 245.7,196 241.6,203 234.4,210 228.3,218 222.8,225 218.0,232 215.3,240 208.2,247 204.2,254 201.8,261 198.1,268 202.2,276 202.3,283 202.8,290 197.4,298 188.8,305 182.3,312 176.0,319 169.2,326 163.5,334 154.4,341 141.0,348 129.1,356 116.3,363 109.4,366"/>
<polyline points="325.1,80 318.9,87 317.2,94 312.2,102 308.2,109 305.6,116 300.3,124 294.5,131 291.2,138 286.9,145 282.7,152 275.4,160 272.3,167 264.8,174 260.6,182 254.5,189 250.1,196 241.8,203 239.3,210 229.9,218 227.5,225 220.0,232 216.8,240 211.8,247 207.6,254 208.2,261 209.5,268 209.4,276 213.2,283 205.0,290 200.8,298 195.3,305 190.4,312 182.7,319 174.6,326 168.2,334 161.3,341 143.8,348 134.7,356 117.2,363 114.1,366"/>
<polyline points="329.2,80 322.4,87 321.4,94 316.7,102 310.5,109 303.2,116 303.5,124 297.5,131 293.7,138 288.2,145 283.5,152 278.1,160 274.7,167 267.0,174 262.1,182 255.2,189 251.4,196 244.2,203 239.8,210 232.8,218 227.4,225 219.8,232 219.8,240 214.7,247 209.3,254 204.6,261 203.1,268 196.0,276 195.4,283 192.2,290 191.9,298 185.1,305 180.3,312 171.6,319 169.2,326 158.8,334 150.4,341 138.1,348 129.8,356 112.7,363 111.6,366"/>
<polyline points="332.5,80 327.6,87 325.5,94 318.7,102 315.6,109 310.5,116 308.1,124 299.8,131 298.8,138 291.0,145 289.7,152 280.1,160 276.4,167 271.2,174 269.5,182 262.0,189 256.4,196 248.5,203 245.6,210 237.3,218 230.6,225 225.4,232 223.2,240 215.0,247 214.5,254 204.4,261 198.9,268 190.1,276 188.3,283 176.0,290 173.1,298 163.3,305 160.2,312 155.2,319 150.5,326 140.1,334 135.1,341 125.8,348 120.1,356 108.2,363 106.6,366"/>
<polyline points="334.3,80 335.3,87 329.7,94 323.0,102 320.0,109 313.0,116 309.3,124 303.7,131 302.4,138 293.5,145 290.8,152 286.0,160 279.1,167 273.9,174 269.3,182 259.9,189 252.1,196 245.9,203 241.6,210 235.2,218 232.5,225 224.8,232 224.7,240 218.1,247 212.8,254 210.5,261 204.4,268 200.3,276 190.0,283 190.3,290 186.8,298 180.9,305 173.4,312 169.2,319 161.6,326 155.0,334 143.7,341 131.6,348 123.5,356 110.9,363 108.7,366"/>
<polyline points="338.7,80 330.4,87 331.1,94 325.3,102 321.2,109 315.8,116 311.4,124 306.0,131 299.1,138 294.2,145 289.1,152 283.9,160 278.6,167 270.2,174 265.0,182 257.3,189 256.1,196 251.2,203 246.9,210 242.1,218 237.5,225 231.5,232 227.7,240 222.7,247 217.1,254 212.4,261 205.9,268 196.5,276 190.1,283 183.5,290 173.4,298 167.6,305 162.5,312 162.2,319 155.4,326 148.6,334 140.6,341 130.0,348 122.5,356 110.9,363 108.2,366"/>
<polyline points="343.7,80 343.9,87 334.3,94 328.9,102 325.8,109 319.9,116 315.6,124 314.5,131 306.5,138 302.8,145 295.3,152 292.4,160 285.3,167 279.7,174 273.9,182 265.1,189 259.0,196 253.1,203 248.3,210 239.9,218 235.6,225 229.7,232 226.8,240 222.4,247 218.3,254 216.6,261 218.2,268 218.4,276 213.5,283 207.7,290 205.5,298 204.4,305 198.3,312 191.4,319 180.0,326 171.3,334 160.1,341 148.6,348 133.3,356 118.9,363 113.7,366"/>
<polyline points="347.4,80 341.5,87 339.7,94 333.7,102 329.6,109 324.2,116 318.9,124 310.3,131 308.0,138 299.5,145 297.5,152 288.7,160 283.7,167 275.8,174 272.4,182 265.5,189 261.8,196 255.8,203 249.8,210 244.8,218 240.1,225 235.2,232 233.5,240 228.0,247 222.2,254 216.9,261 213.4,268 207.7,276 204.5,283 199.4,290 193.7,298 186.4,305 183.1,312 174.9,319 166.8,326 158.0,334 151.0,341 137.0,348 127.7,356 115.4,363 108.9,366"/>
<polyline points="358.5,80 357.5,87 351.8,94 341.6,102 336.8,109 328.7,116 325.0,124 317.9,131 313.6,138 307.3,145 301.6,152 295.7,160 291.4,167 281.9,174 277.8,182 269.3,189 267.0,196 258.4,203 254.9,210 248.3,218 242.5,225 233.1,232 230.9,240 224.2,247 223.5,254 221.9,261 222.0,268 218.7,276 216.0,283 208.0,290 212.6,298 201.6,305 196.7,312 188.6,319 181.8,326 171.5,334 161.3,341 148.0,348 135.1,356 120.1,363 115.1,366"/>
<polyline points="353.0,80 346.3,87 343.9,94 337.3,102 335.0,109 325.5,116 322.9,124 315.1,131 311.5,138 304.3,145 300.9,152 291.8,160 288.5,167 283.0,174 277.7,182 268.6,189 264.6,196 259.8,203 254.4,210 246.6,218 246.6,225 237.1,232 236.1,240 228.8,247 227.3,254 221.0,261 216.5,268 202.5,276 198.7,283 185.6,290 181.0,298 169.7,305 164.3,312 156.3,319 152.9,326 142.7,334 137.9,341 127.1,348 122.7,356 108.2,363 108.9,366"/>
<polyline points="362.5,80 350.4,87 353.4,94 347.3,102 343.3,109 333.0,116 328.2,124 320.9,131 317.5,138 308.1,145 305.7,152 296.6,160 292.9,167 285.0,174 281.3,182 273.3,189 270.6,196 261.6,203 257.7,210 250.2,218 247.8,225 241.6,232 238.2,240 231.2,247 230.0,254 224.1,261 217.3,268 210.6,276 206.7,283 194.8,290 191.4,298 182.8,305 176.1,312 170.1,319 162.8,326 156.7,334 148.6,341 134.8,348 128.1,356 111.9,363 111.4,366"/>
<polyline points="354.6,80 354.8,87 346.2,94 345.7,102 340.8,109 338.8,116 333.4,124 325.7,131 321.3,138 311.5,145 309.3,152 300.2,160 295.3,167 287.6,174 282.5,182 276.5,189 271.4,196 262.5,203 262.1,210 254.1,218 248.7,225 242.7,232 239.4,240 234.6,247 232.5,254 226.9,261 221.4,268 213.3,276 207.9,283 193.5,290 188.2,298 175.8,305 171.0,312 158.7,319 153.0,326 146.3,334 140.7,341 129.3,348 122.2,356 111.5,363 107.5,366"/>
<polyline points="369.4,80 364.3,87 361.3,94 356.0,102 349.8,109 342.4,116 338.0,124 330.9,131 323.3,138 317.1,145 311.3,152 304.1,160 297.5,167 292.5,174 285.8,182 279.4,189 275.4,196 265.4,203 261.1,210 255.5,218 250.2,225 244.8,232 244.0,240 236.4,247 234.4,254 227.9,261 225.5,268 219.3,276 217.2,283 210.7,290 210.4,298 200.6,305 194.2,312 184.2,319 177.9,326 167.6,334 155.8,341 143.5,348 132.8,356 116.5,363 112.1,366"/>
<polyline points="365.0,80 363.5,87 356.9,94 351.7,102 347.6,109 335.5,116 332.2,124 328.6,131 322.1,138 314.7,145 309.6,152 301.4,160 298.5,167 290.4,174 283.8,182 277.2,189 273.4,196 270.1,203 263.1,210 260.0,218 256.7,225 253.1,232 248.9,240 243.9,247 238.5,254 233.6,261 230.1,268 229.5,276 223.5,283 219.8,290 214.5,298 206.5,305 199.7,312 194.0,319 186.3,326 173.8,334 165.4,341 152.2,348 136.3,356 118.9,363 113.2,366"/>
<polyline points="381.4,80 368.7,87 364.5,94 357.5,102 352.9,109 345.3,116 344.4,124 338.5,131 327.2,138 320.9,145 318.0,152 309.0,160 303.7,167 294.8,174 291.3,182 281.0,189 277.5,196 270.5,203 267.5,210 257.1,218 254.5,225 247.9,232 241.2,240 240.1,247 237.2,254 230.0,261 230.6,268 222.3,276 219.7,283 213.7,290 208.5,298 198.6,305 192.4,312 187.9,319 179.4,326 166.8,334 161.8,341 144.0,348 129.8,356 115.7,363 111.6,366"/>
<polyline points="374.1,80 372.3,87 368.0,94 362.6,102 357.4,109 350.9,116 341.6,124 333.6,131 330.8,138 323.6,145 314.2,152 307.6,160 302.9,167 297.8,174 289.2,182 284.0,189 278.7,196 274.2,203 269.2,210 262.3,218 254.1,225 249.4,232 244.8,240 245.3,247 243.5,254 237.9,261 235.3,268 233.6,276 231.3,283 219.8,290 218.6,298 209.9,305 203.0,312 195.0,319 190.7,326 179.2,334 168.0,341 152.3,348 139.1,356 121.2,363 113.7,366"/>
<polyline points="386.7,80 379.2,87 377.4,94 368.4,102 365.5,109 354.1,116 350.4,124 342.1,131 337.2,138 326.7,145 323.4,152 312.8,160 307.7,167 298.1,174 296.6,182 285.7,189 280.6,196 274.6,203 271.6,210 263.1,218 258.5,225 254.1,232 252.0,240 245.4,247 239.4,254 233.3,261 234.4,268 225.6,276 223.6,283 215.0,290 203.8,298 192.1,305 188.2,312 178.6,319 174.0,326 162.2,334 157.0,341 142.6,348 131.1,356 117.0,363 111.7,366"/>
<polyline points="378.3,80 377.3,87 370.2,94 366.4,102 361.7,109 350.3,116 344.6,124 335.1,131 333.2,138 324.8,145 321.0,152 311.1,160 307.5,167 301.0,174 291.6,182 287.0,189 283.1,196 276.8,203 273.8,210 266.3,218 263.5,225 254.8,232 250.3,240 247.7,247 245.9,254 239.9,261 236.7,268 233.0,276 229.6,283 222.7,290 215.6,298 207.5,305 204.8,312 196.1,319 186.9,326 176.6,334 167.6,341 150.0,348 139.1,356 120.1,363 115.6,366"/>
<polyline points="391.3,80 385.4,87 383.9,94 379.2,102 375.6,109 368.7,116 366.3,124 357.6,131 358.1,138 346.1,145 346.3,152 334.3,160 332.0,167 324.2,174 316.4,182 307.5,189 306.1,196 294.9,203 290.7,210 281.7,218 277.0,225 267.7,232 264.4,240 250.3,247 243.8,254 229.3,261 220.3,268 201.1,276 192.3,283 178.4,290 171.3,298 160.0,305 154.7,312 141.8,319 137.6,326 129.3,334 126.7,341 118.9,348 113.9,356 105.1,363 107.0,366"/>
<polyline points="393.3,80 387.2,87 388.2,94 380.8,102 379.4,109 371.8,116 372.1,124 364.5,131 364.4,138 354.6,145 352.6,152 343.8,160 340.4,167 328.5,174 326.8,182 316.1,189 311.2,196 300.8,203 296.3,210 286.7,218 280.1,225 272.1,232 266.1,240 252.1,247 244.2,254 229.0,261 214.1,268 194.3,276 184.5,283 168.3,290 160.6,298 148.6,305 143.4,312 133.3,319 129.5,326 119.7,334 117.2,341 110.0,348 107.0,356 99.8,363 100.1,366"/>
<polyline points="399.5,80 393.9,87 393.9,94 389.2,102 388.2,109 383.9,116 383.4,124 379.9,131 378.2,138 369.5,145 366.8,152 359.0,160 355.2,167 345.2,174 340.3,182 333.5,189 326.9,196 313.8,203 307.8,210 298.5,218 293.1,225 282.0,232 274.0,240 258.2,247 248.7,254 228.2,261 210.0,268 194.4,276 189.7,283 182.8,290 179.7,298 166.3,305 154.6,312 142.4,319 133.9,326 120.3,334 114.3,341 106.2,348 98.0,356 92.7,363 95.1,366"/>
<polyline points="403.2,80 396.2,87 397.3,94 391.0,102 391.2,109 387.1,116 387.1,124 381.2,131 379.9,138 373.5,145 370.4,152 362.0,160 356.6,167 348.4,174 346.9,182 336.5,189 329.7,196 318.7,203 313.2,210 301.6,218 297.6,225 283.9,232 277.0,240 264.8,247 254.6,254 237.5,261 226.7,268 215.8,276 203.8,283 197.1,290 204.6,298 187.1,305 175.4,312 157.2,319 147.1,326 130.6,334 122.6,341 108.8,348 104.2,356 94.1,363 94.5,366"/>
<polyline points="409.9,80 403.4,87 404.2,94 397.8,102 398.8,109 394.0,116 395.6,124 387.2,131 384.0,138 380.0,145 373.9,152 368.7,160 363.2,167 353.8,174 348.2,182 341.6,189 333.7,196 324.3,203 317.0,210 306.8,218 300.4,225 289.4,232 280.4,240 268.7,247 254.5,254 235.4,261 216.2,268 203.6,276 180.3,283 167.3,290 163.3,298 149.8,305 140.5,312 130.3,319 125.3,326 113.1,334 105.5,341 102.3,348 97.4,356 92.2,363 93.2,366"/>
<polyline points="414.3,80 407.4,87 409.3,94 403.1,102 404.1,109 396.7,116 392.3,124 388.8,131 388.4,138 380.5,145 379.1,152 370.8,160 366.2,167 356.4,174 355.1,182 343.6,189 338.9,196 327.7,203 323.1,210 311.7,218 305.8,225 293.9,232 285.4,240 271.5,247 262.6,254 243.9,261 223.2,268 185.9,276 170.9,283 154.8,290 143.6,298 133.3,305 127.1,312 113.9,319 112.8,326 104.9,334 102.6,341 94.3,348 94.5,356 89.1,363 93.4,366"/>
<polyline points="418.5,80 413.4,87 412.2,94 409.5,102 405.0,109 400.0,116 400.4,124 394.5,131 390.4,138 385.9,145 381.5,152 371.8,160 368.4,167 362.3,174 355.1,182 347.2,189 341.6,196 331.2,203 323.0,210 314.4,218 306.4,225 298.0,232 286.8,240 277.5,247 263.9,254 249.4,261 233.0,268 208.8,276 195.5,283 173.1,290 152.8,298 139.7,305 131.4,312 121.1,319 116.1,326 108.2,334 105.1,341 99.2,348 97.0,356 91.8,363 91.8,366"/>
<polyline points="430.3,80 422.9,87 424.1,94 418.2,102 418.6,109 405.1,116 412.9,124 401.8,131 401.3,138 392.7,145 387.1,152 376.2,160 374.9,167 362.0,174 361.5,182 349.6,189 345.6,196 334.8,203 327.7,210 318.1,218 312.2,225 299.8,232 294.2,240 283.2,247 271.8,254 254.5,261 242.4,268 223.3,276 222.1,283 207.4,290 196.2,298 180.3,305 168.4,312 154.4,319 140.9,326 128.2,334 119.9,341 108.1,348 101.5,356 92.2,363 93.9,366"/>
<polyline points="426.0,80 419.8,87 421.3,94 416.2,102 414.0,109 412.3,116 406.3,124 401.6,131 397.9,138 389.3,145 387.7,152 383.9,160 379.8,167 368.5,174 366.2,182 355.8,189 351.2,196 339.4,203 334.5,210 322.8,218 318.6,225 306.4,232 297.5,240 284.2,247 277.3,254 262.5,261 259.0,268 243.3,276 229.9,283 217.2,290 189.4,298 173.9,305 162.5,312 147.2,319 138.4,326 128.2,334 118.1,341 106.4,348 101.7,356 93.0,363 94.9,366"/>
<polyline points="436.2,80 431.7,87 430.6,94 425.0,102 424.1,109 417.1,116 413.7,124 405.8,131 403.6,138 396.6,145 393.6,152 386.2,160 380.9,167 372.5,174 369.8,182 360.8,189 353.9,196 344.5,203 339.0,210 327.6,218 321.1,225 308.0,232 302.8,240 290.2,247 281.3,254 266.2,261 248.3,268 233.6,276 213.5,283 191.1,290 169.1,298 158.1,305 147.3,312 135.1,319 126.1,326 116.9,334 111.9,341 102.7,348 97.2,356 91.7,363 93.3,366"/>
<polyline points="440.5,80 435.6,87 434.5,94 429.7,102 427.0,109 419.3,116 418.7,124 412.2,131 407.8,138 399.9,145 397.5,152 387.5,160 386.6,167 376.7,174 377.9,182 365.6,189 361.4,196 349.4,203 342.0,210 330.4,218 326.1,225 314.7,232 305.6,240 293.0,247 286.6,254 273.1,261 262.5,268 257.6,276 248.4,283 232.2,290 223.6,298 203.4,305 189.7,312 172.0,319 158.7,326 139.7,334 128.0,341 114.5,348 105.8,356 96.3,363 96.7,366"/>
<polyline points="448.2,80 442.2,87 440.4,94 434.9,102 432.4,109 428.9,116 423.6,124 416.3,131 413.7,138 403.2,145 400.2,152 392.5,160 388.4,167 380.0,174 372.7,182 364.8,189 359.2,196 348.3,203 346.2,210 333.9,218 330.1,225 318.5,232 308.6,240 298.4,247 290.6,254 277.4,261 269.2,268 249.0,276 238.9,283 225.2,290 214.4,298 197.3,305 183.4,312 165.1,319 155.6,326 134.5,334 126.3,341 112.8,348 104.8,356 94.7,363 95.1,366"/>
<polyline points="454.5,80 447.8,87 445.5,94 438.3,102 438.5,109 429.9,116 427.4,124 419.0,131 414.9,138 407.0,145 403.1,152 395.3,160 392.9,167 383.3,174 380.5,182 374.5,189 366.2,196 356.4,203 349.9,210 340.9,218 333.9,225 325.3,232 315.6,240 301.7,247 294.8,254 281.1,261 277.4,268 262.9,276 254.2,283 241.3,290 234.6,298 218.0,305 205.5,312 184.6,319 171.9,326 151.9,334 137.9,341 123.2,348 117.9,356 104.4,363 103.3,366"/>
<polyline points="453.0,80 449.5,87 447.5,94 443.0,102 438.9,109 435.7,116 430.4,124 420.3,131 415.5,138 410.8,145 404.8,152 399.4,160 393.4,167 386.6,174 382.2,182 378.5,189 371.6,196 359.8,203 354.6,210 344.7,218 338.2,225 324.4,232 317.2,240 306.5,247 297.8,254 287.8,261 277.4,268 269.2,276 257.1,283 250.2,290 239.8,298 228.6,305 212.9,312 200.0,319 182.2,326 169.2,334 150.8,341 134.5,348 122.9,356 109.4,363 107.5,366"/>
<polyline points="463.3,80 457.1,87 456.8,94 449.9,102 446.8,109 435.4,116 438.0,124 427.5,131 421.1,138 410.0,145 408.8,152 402.0,160 399.8,167 389.8,174 386.5,182 373.7,189 367.4,196 360.1,203 352.7,210 337.1,218 331.7,225 322.3,232 313.4,240 301.2,247 294.9,254 283.6,261 274.9,268 260.5,276 253.8,283 237.0,290 227.0,298 210.0,305 195.0,312 174.6,319 161.9,326 142.3,334 130.8,341 115.9,348 107.8,356 96.5,363 97.7,366"/>
<polyline points="455.0,80 454.1,87 450.4,94 444.8,102 445.1,109 439.2,116 433.8,124 429.1,131 424.1,138 415.1,145 411.0,152 403.0,160 394.9,167 391.2,174 383.3,182 374.2,189 368.8,196 362.8,203 353.6,210 345.9,218 335.4,225 328.4,232 318.6,240 310.0,247 299.5,254 288.8,261 285.8,268 281.1,276 279.5,283 281.0,290 269.4,298 253.5,305 239.7,312 223.5,319 211.9,326 194.7,334 178.5,341 162.3,348 144.2,356 125.1,363 119.4,366"/>
<polyline points="466.8,80 454.2,87 456.6,94 453.9,102 449.4,109 440.5,116 440.8,124 429.2,131 425.9,138 416.1,145 416.8,152 408.7,160 406.2,167 399.5,174 392.8,182 384.8,189 378.5,196 366.3,203 359.4,210 350.8,218 345.1,225 332.5,232 321.0,240 306.4,247 296.9,254 284.3,261 275.1,268 263.3,276 252.7,283 239.0,290 227.4,298 214.0,305 199.6,312 180.0,319 168.7,326 153.3,334 136.4,341 127.1,348 118.7,356 103.3,363 104.0,366"/>
<polyline points="463.5,80 456.4,87 453.2,94 447.7,102 448.5,109 443.0,116 437.6,124 431.0,131 428.3,138 421.2,145 414.1,152 404.2,160 402.3,167 392.4,174 388.0,182 379.7,189 373.9,196 363.7,203 358.0,210 349.0,218 341.4,225 329.6,232 323.9,240 309.3,247 299.9,254 282.1,261 277.3,268 264.2,276 254.2,283 243.0,290 230.9,298 215.9,305 201.4,312 181.1,319 169.7,326 152.4,334 142.2,341 127.8,348 115.3,356 100.7,363 101.7,366"/>
<polyline points="451.1,80 445.1,87 445.7,94 438.2,102 437.5,109 432.7,116 428.5,124 422.9,131 419.2,138 413.8,145 411.1,152 403.8,160 400.7,167 394.5,174 390.8,182 380.2,189 382.6,196 369.0,203 362.6,210 354.4,218 349.5,225 334.4,232 325.9,240 311.4,247 303.9,254 290.3,261 284.9,268 269.8,276 267.3,283 252.9,290 243.3,298 230.0,305 216.5,312 200.3,319 186.9,326 170.5,334 161.9,341 144.3,348 129.8,356 110.3,363 109.8,366"/>
<polyline points="458.6,80 453.4,87 452.4,94 447.1,102 445.7,109 441.6,116 441.0,124 430.7,131 430.7,138 423.1,145 418.8,152 414.6,160 405.4,167 395.3,174 394.2,182 386.2,189 378.3,196 370.8,203 365.5,210 350.7,218 345.7,225 337.8,232 327.6,240 313.4,247 306.1,254 296.7,261 294.9,268 279.6,276 270.7,283 278.0,290 272.8,298 255.6,305 242.2,312 224.2,319 215.5,326 200.9,334 183.7,341 163.0,348 145.8,356 128.3,363 124.0,366"/>
<polyline points="457.4,80 449.4,87 446.3,94 440.6,102 440.3,109 434.0,116 430.3,124 424.7,131 421.6,138 421.2,145 416.8,152 410.7,160 406.9,167 410.3,174 405.5,182 397.2,189 390.8,196 381.5,203 373.7,210 363.3,218 356.4,225 349.2,232 333.5,240 320.2,247 311.6,254 303.3,261 298.1,268 284.1,276 269.2,283 264.5,290 258.6,298 242.5,305 230.6,312 214.6,319 197.6,326 174.6,334 164.2,341 152.0,348 135.0,356 122.0,363 115.0,366"/>
<polyline points="468.5,80 462.2,87 462.6,94 455.4,102 452.6,109 445.6,116 444.8,124 436.9,131 437.1,138 427.7,145 422.9,152 418.3,160 416.4,167 408.0,174 399.8,182 395.9,189 388.2,196 376.1,203 368.2,210 355.6,218 350.2,225 342.1,232 328.0,240 318.7,247 303.1,254 288.8,261 281.2,268 269.7,276 262.1,283 243.6,290 230.9,298 217.9,305 199.0,312 180.9,319 167.4,326 146.6,334 136.5,341 120.9,348 107.5,356 100.8,363 101.5,366"/>
<polyline points="459.4,80 460.5,87 460.8,94 452.9,102 451.6,109 446.3,116 443.3,124 436.5,131 429.6,138 423.0,145 423.7,152 418.7,160 412.2,167 401.2,174 398.1,182 388.9,189 382.4,196 374.2,203 362.9,210 357.2,218 352.0,225 340.7,232 329.7,240 323.7,247 317.4,254 308.5,261 309.5,268 304.8,276 300.6,283 298.6,290 299.2,298 290.9,305 282.6,312 265.0,319 246.1,326 224.7,334 204.5,341 184.8,348 161.9,356 134.8,363 131.0,366"/>
<polyline points="463.0,80 463.1,87 457.9,94 456.3,102 454.6,109 447.6,116 449.3,124 442.3,131 440.9,138 436.1,145 426.2,152 417.4,160 413.2,167 404.1,174 402.3,182 392.0,189 383.3,196 376.5,203 369.0,210 361.7,218 353.9,225 346.0,232 335.7,240 319.7,247 307.7,254 297.8,261 287.8,268 278.9,276 263.4,283 251.9,290 237.5,298 225.0,305 209.5,312 193.0,319 178.0,326 160.3,334 144.4,341 130.9,348 121.7,356 109.0,363 106.5,366"/>
<polyline points="471.8,80 470.1,87 466.5,94 463.2,102 459.1,109 455.8,116 447.3,124 441.5,131 439.0,138 432.7,145 428.5,152 423.3,160 419.1,167 413.4,174 406.6,182 399.7,189 391.6,196 383.1,203 376.4,210 365.4,218 357.6,225 348.8,232 341.1,240 327.1,247 308.2,254 292.3,261 280.2,268 269.2,276 257.9,283 240.5,290 229.8,298 211.7,305 194.8,312 176.2,319 163.3,326 152.5,334 138.6,341 126.5,348 112.6,356 101.1,363 101.1,366"/>
<polyline points="475.4,80 472.2,87 466.4,94 461.6,102 459.2,109 454.1,116 452.7,124 445.8,131 433.2,138 429.2,145 420.2,152 410.7,160 411.2,167 403.3,174 400.9,182 394.3,189 389.6,196 380.4,203 374.4,210 368.2,218 361.6,225 352.4,232 337.5,240 326.2,247 314.8,254 298.1,261 284.9,268 274.5,276 262.9,283 250.0,290 236.4,298 219.5,305 203.9,312 190.4,319 178.7,326 164.1,334 147.9,341 135.7,348 124.3,356 113.4,363 107.7,366"/>
<polyline points="471.2,80 466.1,87 464.6,94 461.1,102 457.3,109 452.5,116 452.0,124 449.3,131 443.5,138 437.8,145 431.4,152 429.4,160 419.7,167 417.8,174 411.0,182 406.1,189 397.3,196 391.7,203 384.8,210 368.8,218 363.4,225 355.6,232 343.5,240 331.8,247 319.5,254 312.7,261 305.1,268 293.8,276 292.6,283 281.7,290 274.5,298 261.2,305 251.2,312 232.1,319 217.1,326 205.9,334 184.9,341 169.6,348 154.6,356 131.3,363 123.9,366"/>
<polyline points="469.5,80 463.5,87 463.9,94 457.1,102 453.7,109 451.2,116 445.5,124 439.5,131 435.6,138 432.7,145 431.7,152 424.3,160 422.1,167 415.9,174 410.5,182 400.2,189 394.9,196 388.6,203 380.3,210 372.8,218 366.7,225 356.7,232 344.4,240 330.2,247 320.1,254 305.3,261 291.2,268 274.8,276 261.4,283 245.8,290 235.3,298 212.7,305 201.2,312 188.5,319 174.2,326 156.1,334 141.7,341 125.5,348 114.1,356 104.5,363 103.5,366"/>
<polyline points="476.5,80 468.0,87 468.9,94 464.9,102 463.1,109 457.4,116 455.9,124 448.5,131 447.3,138 441.3,145 436.6,152 429.9,160 427.6,167 421.8,174 416.1,182 406.5,189 398.8,196 385.4,203 378.9,210 371.9,218 363.6,225 358.1,232 346.3,240 341.6,247 334.9,254 321.0,261 320.9,268 311.8,276 307.9,283 295.3,290 293.5,298 286.4,305 266.8,312 252.9,319 242.3,326 221.6,334 208.2,341 184.1,348 165.6,356 138.4,363 134.9,366"/>
<polyline points="473.4,80 470.4,87 471.4,94 465.3,102 465.2,109 459.6,116 456.1,124 448.9,131 442.3,138 437.7,145 434.8,152 427.7,160 425.2,167 412.9,174 414.8,182 405.7,189 403.2,196 399.2,203 389.1,210 377.0,218 372.4,225 360.3,232 348.1,240 338.6,247 325.5,254 306.5,261 291.6,268 273.5,276 259.4,283 244.9,290 228.6,298 212.3,305 196.7,312 179.5,319 161.7,326 146.8,334 132.1,341 120.8,348 109.5,356 101.0,363 98.8,366"/>
<polyline points="478.1,80 475.3,87 473.6,94 471.3,102 468.5,109 464.3,116 463.5,124 456.5,131 453.5,138 445.2,145 441.1,152 435.0,160 430.2,167 425.5,174 419.9,182 410.3,189 400.7,196 393.4,203 385.1,210 378.6,218 371.2,225 366.9,232 359.3,240 335.6,247 325.1,254 300.9,261 283.9,268 269.1,276 255.6,283 237.1,290 225.3,298 211.5,305 195.1,312 175.6,319 161.3,326 144.5,334 130.2,341 118.0,348 110.3,356 97.7,363 97.2,366"/>
<polyline points="480.3,80 475.0,87 474.8,94 467.7,102 467.1,109 461.2,116 458.2,124 453.9,131 450.2,138 442.7,145 441.5,152 431.5,160 430.2,167 420.9,174 418.4,182 409.9,189 410.0,196 394.7,203 389.9,210 383.9,218 381.1,225 365.9,232 354.7,240 339.5,247 330.2,254 313.4,261 300.4,268 286.3,276 276.2,283 258.6,290 256.0,298 239.5,305 222.9,312 203.9,319 191.0,326 174.4,334 163.9,341 149.1,348 135.7,356 117.3,363 115.6,366"/>
<polyline points="482.9,80 478.6,87 476.4,94 470.3,102 467.8,109 462.9,116 460.7,124 453.5,131 449.6,138 447.5,145 446.6,152 440.9,160 434.4,167 428.8,174 423.7,182 418.6,189 411.3,196 400.8,203 395.7,210 385.5,218 375.6,225 371.5,232 361.4,240 350.0,247 342.7,254 327.3,261 318.1,268 302.3,276 303.3,283 292.8,290 280.8,298 274.8,305 252.9,312 238.0,319 225.8,326 214.2,334 199.1,341 181.6,348 158.2,356 137.3,363 129.3,366"/>
<polyline points="482.4,80 482.1,87 478.7,94 474.1,102 470.6,109 467.5,116 463.1,124 458.1,131 453.0,138 447.3,145 447.3,152 437.9,160 434.1,167 433.9,174 423.4,182 416.2,189 409.7,196 405.0,203 394.6,210 388.2,218 378.6,225 369.4,232 356.0,240 346.0,247 332.2,254 318.3,261 315.1,268 304.4,276 297.4,283 288.3,290 279.9,298 279.1,305 262.8,312 245.8,319 231.8,326 216.0,334 194.2,341 177.2,348 154.0,356 135.4,363 129.3,366"/>
<polyline points="487.3,80 480.2,87 479.6,94 478.4,102 476.1,109 469.2,116 470.8,124 464.7,131 462.4,138 452.0,145 450.1,152 441.6,160 437.7,167 433.0,174 421.9,182 414.9,189 405.7,196 396.0,203 387.5,210 379.0,218 376.0,225 362.9,232 353.6,240 343.1,247 329.0,254 316.1,261 300.2,268 296.6,276 284.7,283 270.8,290 263.4,298 248.8,305 233.6,312 219.3,319 205.7,326 191.6,334 173.3,341 152.8,348 139.2,356 120.3,363 118.7,366"/>
<polyline points="484.6,80 479.8,87 481.2,94 476.1,102 474.7,109 468.4,116 466.8,124 459.7,131 456.5,138 449.3,145 443.8,152 436.4,160 432.7,167 426.0,174 428.3,182 419.4,189 416.8,196 406.6,203 398.8,210 393.0,218 387.4,225 373.1,232 367.2,240 364.2,247 355.7,254 350.3,261 351.4,268 346.4,276 347.1,283 344.5,290 333.7,298 322.0,305 306.9,312 285.3,319 265.7,326 245.4,334 220.6,341 196.9,348 170.2,356 143.1,363 140.0,366"/>
<polyline points="489.3,80 485.6,87 485.2,94 483.6,102 482.9,109 474.4,116 473.1,124 469.1,131 463.2,138 458.2,145 452.4,152 445.4,160 441.3,167 429.2,174 431.8,182 423.4,189 417.9,196 406.9,203 399.3,210 389.2,218 386.1,225 377.7,232 364.7,240 352.7,247 338.7,254 330.8,261 313.4,268 289.7,276 282.8,283 273.0,290 262.7,298 244.1,305 231.9,312 214.5,319 199.2,326 181.7,334 165.4,341 146.0,348 129.7,356 114.3,363 111.5,366"/>
<polyline points="491.1,80 485.7,87 480.7,94 479.4,102 475.5,109 474.9,116 466.4,124 462.9,131 457.0,138 455.2,145 450.4,152 445.6,160 441.4,167 437.0,174 428.8,182 423.1,189 414.7,196 413.3,203 402.4,210 397.6,218 383.1,225 380.7,232 368.9,240 353.0,247 340.4,254 324.5,261 304.1,268 288.4,276 271.6,283 256.2,290 244.2,298 226.2,305 209.6,312 195.9,319 184.3,326 165.2,334 156.6,341 141.1,348 129.7,356 115.2,363 110.3,366"/>
<polyline points="490.0,80 484.0,87 486.7,94 479.1,102 480.0,109 470.6,116 469.8,124 461.9,131 463.2,138 455.6,145 459.9,152 449.2,160 445.4,167 440.3,174 435.7,182 428.2,189 421.2,196 413.9,203 406.2,210 394.2,218 391.6,225 380.0,232 372.4,240 359.2,247 350.9,254 341.4,261 338.5,268 329.8,276 326.8,283 316.7,290 324.0,298 307.4,305 293.4,312 271.7,319 254.0,326 234.0,334 219.4,341 191.7,348 172.9,356 140.6,363 136.2,366"/>
<polyline points="493.8,80 492.5,87 491.1,94 487.1,102 486.8,109 481.5,116 481.7,124 470.5,131 468.9,138 465.1,145 461.9,152 450.5,160 447.9,167 445.8,174 440.8,182 433.8,189 425.8,196 416.7,203 409.1,210 402.0,218 391.3,225 383.5,232 373.4,240 355.5,247 345.7,254 327.4,261 308.4,268 285.9,276 268.1,283 250.8,290 234.2,298 211.5,305 198.0,312 180.6,319 168.3,326 148.2,334 134.4,341 122.6,348 113.9,356 102.3,363 101.5,366"/>
<polyline points="495.0,80 488.5,87 488.0,94 483.5,102 479.6,109 477.2,116 472.4,124 467.0,131 465.4,138 460.5,145 455.0,152 453.8,160 444.9,167 439.2,174 437.2,182 430.5,189 426.8,196 419.1,203 407.8,210 403.8,218 396.3,225 391.2,232 381.4,240 376.9,247 367.9,254 356.2,261 345.5,268 332.8,276 329.9,283 320.6,290 314.4,298 298.2,305 277.8,312 254.3,319 239.2,326 216.9,334 194.3,341 175.6,348 155.1,356 133.9,363 127.2,366"/>
<polyline points="499.3,80 494.7,87 491.0,94 487.6,102 484.8,109 480.8,116 478.1,124 473.1,131 468.5,138 461.7,145 457.9,152 454.7,160 451.8,167 443.3,174 439.3,182 426.3,189 424.2,196 412.2,203 410.4,210 398.0,218 394.4,225 388.4,232 379.2,240 364.9,247 349.0,254 333.7,261 318.8,268 299.5,276 277.0,283 255.9,290 242.6,298 222.5,305 206.6,312 189.9,319 176.3,326 158.2,334 149.1,341 132.8,348 120.2,356 105.0,363 106.2,366"/>
<polyline points="499.7,80 492.9,87 496.6,94 491.9,102 491.4,109 478.4,116 483.8,124 475.5,131 472.3,138 468.0,145 464.4,152 460.7,160 456.0,167 447.9,174 444.4,182 438.8,189 431.2,196 426.7,203 414.3,210 404.9,218 399.9,225 384.1,232 375.6,240 361.0,247 353.1,254 346.4,261 336.2,268 326.8,276 317.2,283 305.3,290 286.4,298 268.8,305 255.5,312 240.2,319 230.5,326 206.1,334 188.9,341 170.0,348 151.4,356 129.8,363 123.8,366"/>
<polyline points="494.3,80 489.5,87 488.5,94 485.2,102 482.8,109 479.6,116 477.6,124 471.7,131 473.4,138 465.6,145 461.8,152 455.8,160 455.1,167 445.7,174 443.3,182 434.9,189 439.5,196 420.9,203 423.5,210 412.9,218 404.6,225 396.8,232 386.6,240 381.8,247 376.3,254 366.0,261 354.2,268 336.8,276 329.4,283 311.8,290 311.9,298 300.5,305 289.4,312 267.6,319 255.1,326 233.4,334 214.7,341 188.0,348 166.5,356 137.8,363 132.1,366"/>
<polyline points="507.8,80 501.0,87 501.6,94 494.4,102 494.5,109 486.5,116 486.8,124 478.9,131 475.9,138 471.6,145 470.1,152 461.8,160 461.6,167 448.9,174 447.4,182 442.2,189 435.4,196 422.7,203 418.8,210 404.9,218 401.5,225 392.5,232 391.3,240 369.3,247 359.8,254 336.1,261 327.9,268 308.0,276 289.7,283 263.7,290 248.9,298 233.7,305 219.8,312 196.3,319 181.5,326 165.5,334 157.4,341 141.7,348 128.4,356 114.1,363 112.5,366"/>
<polyline points="501.1,80 496.8,87 492.8,94 495.1,102 490.7,109 491.2,116 488.7,124 486.7,131 481.9,138 472.5,145 469.9,152 464.9,160 463.1,167 454.5,174 450.8,182 444.8,189 443.3,196 433.7,203 419.5,210 412.0,218 403.7,225 393.8,232 381.4,240 369.9,247 368.0,254 358.2,261 356.1,268 352.1,276 352.2,283 339.9,290 326.9,298 311.1,305 294.0,312 276.5,319 260.4,326 239.6,334 223.5,341 199.1,348 172.5,356 144.1,363 139.0,366"/>
<polyline points="501.3,80 498.3,87 497.7,94 491.1,102 489.1,109 485.3,116 479.1,124 476.0,131 471.6,138 467.2,145 467.0,152 458.1,160 454.7,167 451.6,174 445.5,182 436.0,189 430.4,196 427.5,203 425.2,210 415.3,218 410.9,225 399.8,232 391.5,240 387.7,247 382.4,254 374.7,261 367.9,268 374.1,276 376.3,283 367.5,290 361.9,298 345.7,305 327.6,312 308.6,319 286.3,326 266.5,334 241.9,341 209.5,348 183.1,356 154.1,363 143.5,366"/>
<polyline points="506.3,80 503.4,87 503.2,94 501.7,102 499.7,109 491.3,116 493.0,124 482.0,131 482.6,138 474.0,145 473.3,152 462.5,160 461.2,167 458.3,174 455.8,182 445.2,189 438.9,196 429.7,203 426.6,210 417.4,218 412.8,225 405.0,232 396.2,240 378.4,247 363.6,254 344.3,261 331.3,268 316.2,276 286.6,283 261.1,290 247.3,298 223.2,305 212.4,312 194.3,319 189.9,326 167.5,334 152.3,341 140.2,348 124.0,356 108.7,363 107.1,366"/>
<polyline points="508.1,80 504.1,87 502.2,94 497.2,102 496.5,109 493.5,116 489.4,124 484.9,131 477.8,138 477.7,145 473.5,152 467.7,160 463.3,167 456.1,174 449.6,182 444.6,189 435.7,196 420.6,203 414.1,210 407.8,218 407.7,225 399.9,232 393.8,240 372.7,247 361.1,254 338.8,261 324.7,268 311.3,276 290.3,283 267.5,290 252.4,298 236.1,305 227.2,312 210.1,319 199.8,326 186.0,334 170.4,341 151.5,348 138.9,356 120.7,363 117.8,366"/>
<polyline points="505.3,80 499.0,87 497.8,94 493.7,102 493.8,109 489.2,116 486.8,124 479.9,131 485.0,138 480.5,145 476.5,152 473.2,160 471.7,167 464.3,174 459.0,182 452.5,189 445.8,196 436.1,203 430.6,210 424.6,218 418.2,225 410.1,232 408.0,240 391.5,247 379.6,254 363.2,261 341.4,268 321.9,276 309.3,283 285.9,290 266.7,298 247.2,305 236.7,312 219.3,319 205.6,326 188.8,334 175.1,341 157.1,348 142.0,356 122.8,363 120.5,366"/>
<polyline points="509.8,80 506.9,87 508.0,94 505.6,102 500.8,109 502.0,116 496.7,124 494.0,131 490.4,138 490.0,145 480.9,152 478.8,160 474.7,167 472.1,174 465.6,182 454.0,189 451.9,196 444.8,203 435.6,210 419.9,218 412.9,225 407.8,232 398.2,240 385.4,247 370.6,254 352.9,261 344.1,268 325.7,276 314.9,283 305.2,290 289.8,298 272.3,305 257.4,312 236.3,319 221.1,326 200.6,334 187.8,341 166.9,348 150.4,356 129.4,363 125.6,366"/>
<polyline points="514.4,80 508.8,87 508.2,94 498.4,102 499.3,109 494.9,116 492.6,124 487.7,131 486.4,138 480.5,145 478.4,152 473.5,160 469.4,167 462.1,174 460.9,182 449.1,189 450.9,196 438.5,203 434.0,210 424.9,218 423.7,225 412.5,232 403.6,240 393.7,247 385.8,254 367.8,261 363.7,268 347.9,276 332.7,283 328.8,290 319.6,298 303.2,305 288.7,312 271.6,319 256.3,326 236.5,334 215.7,341 190.8,348 168.7,356 142.4,363 134.8,366"/>
<polyline points="508.8,80 508.0,87 504.5,94 502.9,102 502.1,109 497.5,116 493.2,124 488.6,131 487.4,138 482.6,145 479.3,152 470.1,160 465.5,167 462.2,174 454.7,182 458.4,189 442.1,196 435.5,203 427.7,210 422.9,218 415.5,225 413.9,232 398.9,240 397.3,247 387.8,254 383.1,261 379.5,268 376.5,276 361.8,283 351.5,290 337.9,298 323.9,305 308.8,312 290.5,319 270.0,326 252.3,334 231.3,341 204.0,348 177.4,356 148.2,363 137.9,366"/>
<polyline points="515.5,80 514.8,87 515.2,94 508.4,102 509.4,109 501.3,116 502.8,124 497.2,131 492.2,138 486.1,145 488.5,152 481.6,160 475.9,167 473.5,174 469.7,182 457.0,189 449.0,196 442.0,203 438.2,210 429.2,218 422.1,225 405.1,232 402.8,240 386.8,247 379.1,254 360.7,261 333.9,268 318.7,276 297.3,283 268.5,290 256.2,298 233.8,305 221.2,312 202.0,319 193.4,326 178.3,334 159.0,341 140.1,348 132.1,356 115.0,363 114.4,366"/>
<polyline points="516.7,80 513.8,87 513.3,94 509.9,102 505.9,109 505.0,116 503.5,124 500.5,131 496.0,138 487.6,145 487.0,152 484.4,160 482.7,167 477.4,174 473.5,182 463.5,189 459.8,196 447.2,203 442.9,210 435.9,218 430.3,225 420.5,232 417.1,240 400.5,247 390.3,254 373.1,261 365.6,268 341.2,276 318.9,283 300.4,290 278.3,298 259.3,305 243.3,312 228.3,319 216.6,326 198.5,334 183.4,341 164.4,348 145.4,356 127.0,363 122.3,366"/>
<polyline points="514.2,80 508.0,87 513.2,94 505.9,102 506.1,109 497.5,116 500.2,124 496.9,131 499.6,138 493.6,145 485.6,152 479.5,160 479.4,167 466.9,174 466.9,182 459.4,189 455.8,196 444.7,203 440.8,210 431.3,218 425.1,225 423.0,232 413.5,240 403.3,247 396.9,254 387.1,261 378.1,268 362.8,276 361.1,283 346.9,290 332.5,298 313.7,305 298.8,312 278.9,319 263.7,326 243.0,334 227.1,341 198.2,348 176.2,356 145.0,363 140.1,366"/>
<polyline points="523.1,80 512.1,87 512.4,94 510.1,102 509.1,109 503.6,116 501.6,124 493.9,131 494.0,138 489.7,145 483.6,152 475.4,160 473.6,167 469.3,174 460.5,182 462.5,189 458.2,196 450.7,203 441.9,210 431.0,218 427.6,225 421.2,232 410.4,240 405.5,247 404.9,254 396.0,261 389.0,268 391.3,276 377.2,283 374.3,290 353.6,298 335.5,305 319.2,312 298.8,319 279.3,326 259.1,334 238.7,341 214.8,348 186.5,356 153.3,363 146.4,366"/>
<polyline points="525.1,80 525.4,87 521.8,94 518.6,102 515.2,109 512.6,116 509.8,124 507.9,131 504.4,138 498.5,145 497.1,152 487.8,160 486.2,167 481.4,174 476.1,182 468.0,189 460.9,196 453.7,203 444.8,210 440.5,218 430.9,225 416.6,232 414.4,240 404.0,247 393.3,254 391.1,261 392.4,268 385.7,276 381.3,283 370.9,290 355.7,298 341.1,305 325.6,312 304.3,319 284.7,326 266.2,334 242.5,341 211.8,348 185.4,356 151.2,363 145.4,366"/>
<polyline points="519.1,80 516.4,87 518.2,94 511.1,102 511.2,109 507.2,116 508.1,124 500.2,131 501.1,138 491.4,145 492.6,152 485.2,160 481.2,167 473.5,174 472.6,182 467.9,189 467.0,196 457.1,203 452.0,210 446.1,218 434.9,225 427.5,232 422.2,240 408.0,247 403.0,254 381.0,261 371.5,268 358.5,276 341.2,283 327.1,290 317.2,298 293.7,305 279.2,312 261.0,319 246.4,326 226.0,334 212.8,341 183.9,348 162.9,356 135.4,363 132.1,366"/>
<polyline points="520.8,80 519.1,87 519.7,94 515.3,102 514.8,109 510.4,116 512.8,124 505.3,131 500.0,138 499.4,145 496.7,152 491.6,160 489.1,167 482.3,174 480.1,182 474.3,189 468.6,196 462.6,203 455.2,210 444.1,218 440.4,225 431.6,232 426.1,240 415.0,247 397.8,254 377.1,261 358.9,268 339.6,276 312.1,283 285.6,290 258.7,298 239.9,305 225.9,312 208.6,319 195.4,326 182.7,334 169.8,341 151.0,348 137.4,356 118.3,363 116.3,366"/>
<polyline points="522.5,80 520.9,87 519.4,94 515.1,102 513.6,109 511.0,116 505.7,124 504.7,131 503.1,138 497.5,145 492.8,152 490.2,160 485.7,167 482.0,174 478.2,182 471.1,189 462.0,196 456.8,203 449.9,210 440.6,218 436.2,225 428.0,232 418.2,240 412.8,247 406.8,254 403.8,261 400.3,268 388.6,276 370.4,283 358.3,290 348.6,298 331.1,305 316.0,312 295.3,319 274.3,326 249.5,334 230.2,341 202.2,348 177.8,356 147.0,363 142.3,366"/>
<polyline points="531.1,80 528.6,87 524.7,94 521.4,102 520.4,109 513.6,116 512.3,124 511.3,131 505.9,138 504.0,145 502.7,152 499.6,160 491.6,167 483.7,174 482.5,182 478.0,189 470.3,196 462.0,203 455.9,210 448.4,218 442.1,225 433.4,232 426.1,240 417.4,247 414.9,254 413.5,261 402.1,268 379.9,276 366.1,283 356.1,290 342.7,298 333.7,305 311.1,312 298.3,319 277.7,326 256.9,334 235.9,341 209.3,348 180.6,356 150.2,363 139.6,366"/>
<polyline points="532.1,80 530.3,87 528.5,94 524.8,102 522.4,109 517.2,116 521.8,124 514.2,131 509.7,138 505.4,145 498.9,152 492.9,160 491.0,167 488.5,174 482.0,182 475.4,189 470.3,196 457.3,203 450.3,210 442.5,218 440.6,225 435.1,232 426.5,240 429.4,247 425.5,254 417.6,261 408.0,268 400.2,276 388.6,283 379.1,290 367.8,298 353.2,305 334.4,312 314.9,319 293.7,326 272.3,334 249.4,341 217.0,348 189.5,356 157.8,363 147.8,366"/>
<polyline points="527.4,80 524.6,87 520.4,94 519.5,102 517.3,109 519.9,116 520.3,124 511.0,131 517.0,138 511.3,145 510.1,152 502.8,160 501.4,167 495.6,174 493.6,182 487.3,189 480.8,196 473.0,203 469.1,210 454.6,218 450.0,225 442.1,232 432.3,240 420.9,247 410.9,254 393.0,261 376.2,268 355.9,276 337.3,283 313.8,290 297.8,298 267.0,305 260.7,312 244.1,319 226.8,326 208.6,334 193.0,341 172.1,348 151.9,356 131.4,363 125.7,366"/>
<polyline points="535.3,80 533.4,87 528.8,94 528.4,102 525.6,109 522.8,116 515.7,124 517.7,131 513.9,138 509.0,145 504.5,152 497.7,160 495.8,167 492.3,174 489.0,182 478.3,189 472.3,196 468.5,203 460.3,210 452.1,218 445.6,225 439.2,232 436.2,240 424.8,247 421.5,254 404.6,261 386.3,268 360.7,276 341.2,283 325.1,290 291.1,298 263.3,305 247.6,312 234.5,319 207.3,326 192.9,334 175.5,341 157.8,348 144.2,356 126.2,363 117.8,366"/>
<polyline points="526.7,80 523.3,87 523.4,94 522.3,102 523.2,109 516.3,116 513.8,124 509.7,131 507.3,138 503.0,145 500.7,152 496.9,160 494.7,167 490.4,174 486.1,182 485.4,189 477.0,196 471.0,203 461.2,210 457.0,218 450.8,225 445.6,232 435.1,240 434.4,247 429.3,254 421.3,261 412.8,268 402.4,276 390.6,283 383.1,290 362.7,298 350.3,305 329.5,312 312.5,319 290.3,326 269.1,334 244.3,341 218.3,348 187.9,356 153.4,363 146.7,366"/>
<polyline points="534.9,80 523.8,87 527.8,94 525.5,102 519.8,109 520.7,116 519.8,124 517.1,131 513.2,138 506.6,145 507.8,152 501.8,160 498.7,167 491.0,174 485.8,182 480.2,189 477.9,196 463.8,203 459.7,210 450.6,218 443.4,225 437.0,232 434.7,240 422.9,247 412.8,254 398.7,261 381.9,268 365.3,276 355.9,283 336.2,290 308.5,298 283.4,305 273.6,312 256.3,319 238.9,326 220.7,334 208.2,341 179.8,348 166.0,356 140.5,363 135.9,366"/>
<polyline points="530.3,80 530.2,87 533.6,94 529.2,102 528.3,109 524.3,116 525.3,124 519.4,131 517.3,138 512.5,145 510.5,152 507.7,160 502.5,167 498.2,174 492.3,182 488.0,189 482.8,196 472.2,203 464.6,210 457.6,218 453.4,225 447.4,232 441.2,240 430.5,247 419.4,254 408.5,261 396.4,268 368.9,276 352.5,283 334.3,290 305.5,298 280.4,305 269.2,312 250.9,319 234.7,326 218.0,334 201.8,341 178.6,348 160.1,356 133.0,363 129.7,366"/>
<polyline points="539.7,80 535.0,87 534.6,94 529.6,102 529.8,109 526.0,116 521.0,124 522.1,131 520.1,138 517.2,145 515.4,152 510.0,160 507.8,167 498.6,174 496.7,182 490.0,189 484.9,196 474.4,203 469.4,210 460.3,218 457.2,225 450.2,232 445.2,240 436.4,247 429.0,254 418.1,261 407.9,268 394.9,276 386.2,283 360.5,290 341.7,298 317.3,305 302.3,312 288.1,319 268.4,326 253.2,334 229.5,341 204.9,348 180.6,356 150.9,363 143.1,366"/>
<polyline points="541.3,80 536.7,87 535.2,94 530.8,102 532.7,109 526.7,116 526.9,124 521.7,131 522.8,138 513.5,145 514.1,152 505.2,160 505.1,167 501.2,174 499.3,182 491.7,189 487.9,196 475.3,203 472.5,210 463.0,218 459.9,225 449.3,232 447.7,240 438.5,247 434.2,254 425.0,261 416.8,268 403.9,276 398.4,283 384.8,290 373.7,298 354.8,305 339.0,312 316.6,319 297.4,326 274.0,334 252.3,341 218.3,348 193.0,356 156.9,363 148.1,366"/>
<polyline points="542.4,80 538.9,87 537.8,94 534.7,102 533.8,109 531.8,116 529.7,124 526.9,131 522.5,138 520.9,145 517.7,152 512.4,160 509.1,167 502.3,174 500.4,182 494.6,189 488.3,196 485.1,203 478.7,210 473.4,218 467.6,225 462.3,232 456.7,240 450.4,247 445.9,254 437.4,261 425.4,268 419.9,276 409.4,283 397.8,290 385.3,298 369.1,305 348.1,312 327.2,319 307.6,326 283.3,334 258.7,341 225.7,348 196.2,356 161.3,363 148.1,366"/>
<polyline points="550.2,80 545.1,87 545.4,94 540.6,102 541.3,109 534.5,116 535.1,124 529.3,131 531.9,138 524.9,145 523.2,152 516.4,160 514.0,167 506.0,174 507.7,182 498.5,189 495.6,196 484.6,203 482.2,210 474.9,218 470.8,225 463.7,232 458.9,240 452.2,247 449.2,254 438.4,261 432.9,268 420.7,276 413.4,283 401.9,290 387.9,298 372.3,305 360.8,312 330.9,319 311.9,326 291.5,334 266.1,341 231.2,348 202.9,356 163.5,363 150.7,366"/>
<polyline points="545.1,80 542.1,87 540.3,94 538.7,102 536.6,109 533.2,116 532.1,124 530.4,131 525.5,138 522.4,145 519.1,152 515.4,160 510.4,167 507.1,174 503.1,182 496.1,189 491.6,196 487.5,203 483.8,210 476.6,218 471.9,225 465.9,232 460.5,240 455.7,247 451.4,254 438.7,261 428.7,268 417.8,276 406.8,283 396.4,290 382.0,298 367.0,305 347.7,312 324.9,319 303.9,326 280.6,334 255.8,341 223.7,348 192.2,356 158.4,363 149.5,366"/>
<polyline points="549.4,80 546.3,87 548.8,94 545.4,102 544.8,109 542.0,116 540.8,124 533.4,131 532.9,138 525.0,145 525.3,152 520.3,160 517.0,167 511.2,174 508.0,182 499.8,189 497.7,196 490.8,203 487.8,210 480.0,218 474.3,225 468.2,232 462.7,240 455.8,247 452.3,254 442.5,261 434.4,268 423.6,276 411.6,283 400.1,290 386.6,298 368.5,305 350.6,312 329.9,319 309.8,326 285.7,334 261.8,341 228.2,348 199.0,356 160.2,363 150.5,366"/>
<polyline points="555.0,80 552.2,87 545.2,94 544.0,102 543.5,109 540.9,116 538.7,124 537.6,131 535.3,138 529.3,145 530.2,152 523.1,160 520.1,167 515.6,174 510.9,182 504.7,189 500.0,196 492.0,203 490.3,210 481.0,218 479.4,225 468.7,232 467.8,240 458.5,247 455.1,254 447.5,261 440.9,268 428.3,276 421.8,283 409.9,290 399.0,298 383.4,305 368.3,312 347.4,319 326.1,326 301.8,334 280.1,341 245.6,348 209.7,356 164.2,363 150.7,366"/>
<polyline points="557.4,80 551.9,87 553.1,94 548.6,102 550.5,109 543.3,116 544.9,124 538.9,131 537.2,138 532.0,145 530.4,152 523.6,160 522.8,167 513.4,174 512.0,182 503.9,189 502.6,196 493.6,203 492.1,210 482.6,218 480.2,225 472.6,232 469.6,240 460.6,247 459.8,254 452.1,261 444.0,268 429.5,276 421.4,283 409.4,290 401.8,298 386.4,305 368.7,312 348.3,319 329.5,326 301.3,334 281.2,341 241.2,348 212.0,356 167.9,363 152.2,366"/>
<polyline points="560.6,80 556.9,87 555.4,94 551.4,102 551.2,109 550.2,116 546.5,124 543.7,131 540.1,138 537.3,145 534.4,152 527.7,160 526.5,167 517.9,174 514.7,182 507.6,189 503.8,196 497.6,203 493.1,210 487.0,218 484.4,225 474.4,232 470.3,240 463.3,247 456.9,254 446.5,261 439.0,268 425.8,276 416.4,283 407.7,290 390.7,298 376.9,305 362.3,312 341.6,319 320.0,326 295.5,334 271.6,341 239.1,348 205.8,356 163.8,363 149.0,366"/>
<polyline points="564.4,80 560.4,87 558.4,94 554.7,102 555.6,109 550.6,116 550.3,124 544.5,131 542.2,138 540.5,145 540.2,152 527.9,160 529.9,167 520.9,174 521.3,182 512.2,189 510.0,196 503.3,203 500.4,210 491.0,218 487.9,225 481.0,232 477.0,240 465.2,247 462.2,254 449.7,261 436.6,268 426.2,276 418.4,283 401.1,290 392.5,298 372.3,305 356.9,312 335.0,319 315.6,326 288.5,334 269.0,341 234.2,348 205.5,356 159.6,363 150.2,366"/>
<polyline points="570.6,80 563.6,87 566.7,94 560.3,102 557.9,109 554.4,116 552.3,124 548.6,131 545.9,138 540.2,145 535.9,152 533.6,160 527.7,167 524.4,174 517.7,182 511.4,189 505.2,196 499.8,203 494.4,210 491.3,218 485.4,225 478.6,232 472.5,240 469.8,247 463.7,254 455.7,261 442.9,268 436.6,276 428.9,283 413.0,290 404.8,298 393.0,305 375.2,312 359.1,319 335.7,326 312.3,334 289.2,341 253.2,348 215.4,356 172.6,363 151.2,366"/>
<polyline points="567.6,80 565.8,87 561.8,94 565.1,102 566.0,109 560.8,116 557.0,124 550.9,131 551.5,138 547.0,145 544.8,152 538.7,160 536.6,167 529.2,174 524.6,182 519.5,189 514.1,196 505.2,203 501.6,210 494.4,218 489.5,225 483.5,232 478.5,240 470.5,247 466.7,254 461.7,261 449.7,268 439.4,276 433.2,283 420.4,290 408.2,298 394.3,305 380.2,312 361.6,319 338.1,326 314.0,334 292.7,341 254.8,348 220.4,356 171.3,363 154.2,366"/>
<polyline points="572.1,80 567.9,87 563.0,94 559.0,102 559.8,109 558.4,116 558.4,124 554.1,131 550.5,138 544.8,145 539.8,152 535.5,160 531.5,167 527.5,174 520.6,182 515.9,189 511.6,196 506.5,203 502.8,210 495.4,218 492.2,225 483.9,232 480.1,240 475.4,247 468.5,254 457.3,261 447.7,268 437.7,276 425.6,283 409.8,290 394.6,298 379.9,305 363.0,312 344.0,319 321.4,326 300.1,334 275.7,341 241.8,348 207.2,356 162.4,363 149.6,366"/>
<polyline points="575.8,80 568.5,87 567.6,94 567.3,102 566.2,109 562.9,116 560.9,124 557.1,131 552.6,138 548.9,145 547.5,152 540.8,160 536.3,167 531.1,174 526.8,182 519.1,189 516.3,196 509.9,203 505.4,210 500.2,218 494.0,225 488.7,232 483.1,240 474.9,247 470.3,254 460.5,261 445.4,268 432.8,276 422.9,283 405.8,290 394.7,298 378.3,305 358.4,312 339.1,319 318.2,326 293.3,334 269.5,341 233.1,348 202.0,356 162.0,363 149.1,366"/>
<polyline points="577.9,80 572.7,87 572.2,94 569.3,102 571.0,109 564.0,116 564.0,124 557.9,131 556.3,138 552.7,145 549.5,152 542.0,160 539.6,167 532.3,174 529.6,182 521.0,189 518.2,196 510.6,203 507.7,210 500.8,218 496.7,225 489.8,232 486.3,240 476.8,247 472.5,254 466.0,261 455.0,268 445.3,276 435.6,283 416.9,290 408.0,298 393.1,305 383.0,312 363.1,319 339.5,326 315.3,334 294.0,341 257.4,348 222.6,356 172.5,363 153.4,366"/>
<polyline points="582.7,80 577.0,87 575.8,94 572.4,102 574.7,109 569.8,116 568.6,124 564.7,131 562.9,138 555.0,145 556.4,152 548.5,160 542.9,167 534.7,174 532.3,182 524.9,189 520.1,196 515.3,203 510.1,210 504.9,218 500.4,225 493.0,232 488.0,240 479.9,247 476.8,254 463.8,261 452.2,268 439.9,276 430.6,283 416.7,290 404.0,298 386.1,305 372.7,312 355.2,319 334.3,326 307.5,334 282.2,341 248.9,348 215.7,356 169.0,363 151.3,366"/>
<polyline points="584.2,80 579.7,87 576.3,94 576.6,102 575.8,109 572.3,116 570.2,124 563.3,131 559.6,138 557.4,145 549.4,152 546.0,160 543.8,167 539.1,174 534.2,182 527.3,189 523.2,196 516.1,203 512.0,210 505.9,218 501.5,225 495.6,232 490.9,240 482.2,247 478.0,254 471.1,261 452.0,268 442.9,276 430.7,283 416.2,290 402.9,298 387.9,305 374.1,312 351.1,319 329.8,326 306.5,334 285.9,341 250.4,348 217.2,356 167.5,363 152.1,366"/>
</g>
<g fill="none" stroke="#000" stroke-width="1" shape-rendering="crispEdges">
<rect x="65.5" y="65.5" width="550" height="310"/>
<path d="M65 336.5h6M615 336.5h-5M65 307.5h6M615 307.5h-5M65 278.5h6M615 278.5h-5M65 249.5h6M615 249.5h-5M65 220.5h11M615 220.5h-10M65 191.5h6M615 191.5h-5M65 162.5h6M615 162.5h-5M65 133.5h6M615 133.5h-5M65 104.5h6M615 104.5h-5M65 75.5h11M615 75.5h-10M128.5 65v6M128.5 375v-5M181.5 65v11M181.5 375v-10M234.5 65v6M234.5 375v-5M287.5 65v11M287.5 375v-10M340.5 65v6M340.5 375v-5M393.5 65v11M393.5 375v-10M446.5 65v6M446.5 375v-5M499.5 65v11M499.5 375v-10M552.5 65v6M552.5 375v-5M605.5 65v11M605.5 375v-10"/>
</g>
<text transform="translate(358 30) scale(1 0.85)" font-size="16" text-anchor="middle">T1022s1-D1</text>
<text transform="translate(334 420) scale(1 0.85)" font-size="16" text-anchor="middle">Percent of Residues (CA)</text>
<text transform="translate(30 234.5) rotate(-90) scale(1 0.85)" font-size="16" text-anchor="middle">Distance Cutoff, A</text>
<g font-size="16" text-anchor="middle">
<text transform="translate(65 395) scale(1 0.92)">0</text><text transform="translate(181 395) scale(1 0.92)">20</text><text transform="translate(287 395) scale(1 0.92)">40</text>
<text transform="translate(392 395) scale(1 0.92)">60</text><text transform="translate(499 395) scale(1 0.92)">80</text><text transform="translate(609 395) scale(1 0.92)">100</text>
<text transform="translate(54.5 376) rotate(-90) scale(1 0.92)">0</text>
<text transform="translate(54.5 221) rotate(-90) scale(1 0.92)">5</text>
<text transform="translate(54.5 66) rotate(-90) scale(1 0.92)">10</text>
</g>
</svg>
</body></html>
